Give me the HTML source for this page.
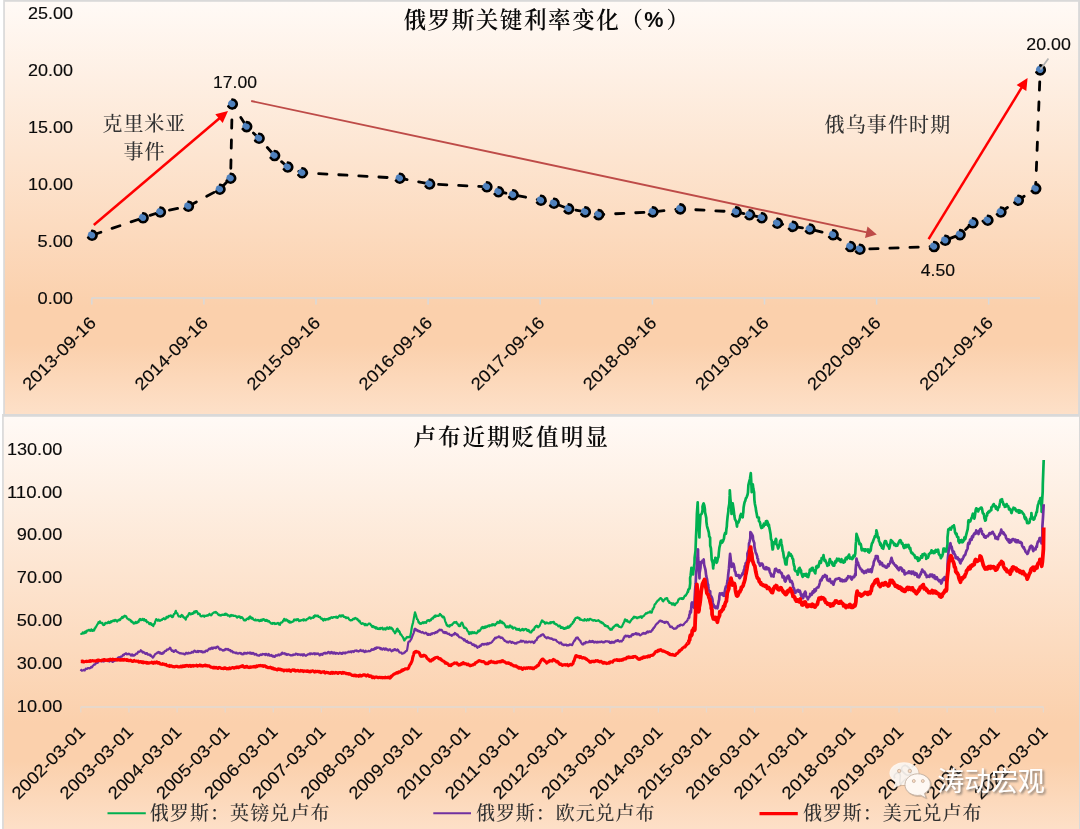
<!DOCTYPE html>
<html lang="zh"><head><meta charset="utf-8"><title>俄罗斯关键利率变化 / 卢布近期贬值明显</title>
<style>html,body{margin:0;padding:0;background:#fff}svg{display:block;will-change:transform}.n{font-family:"Liberation Sans", sans-serif;fill:#0a0a0a;stroke:#0a0a0a;stroke-width:0.15px}.s{font-family:"Liberation Serif", "Noto Serif CJK SC", serif}</style></head><body>
<svg width="1080" height="829" viewBox="0 0 1080 829">
<defs>
<linearGradient id="g" x1="0" y1="0" x2="0" y2="1"><stop offset="0" stop-color="#FFFAF6"/><stop offset="0.74" stop-color="#FBD0AC"/><stop offset="0.83" stop-color="#FBD0AC"/><stop offset="1" stop-color="#FDE0C8"/></linearGradient>
<filter id="sh" x="-10%" y="-20%" width="130%" height="150%"><feDropShadow dx="1.6" dy="1.6" stdDeviation="0.9" flood-color="#555" flood-opacity="0.75"/></filter>
<filter id="sh2" x="-10%" y="-20%" width="130%" height="150%"><feDropShadow dx="0.8" dy="0.8" stdDeviation="0.7" flood-color="#7a6a5c" flood-opacity="0.45"/></filter>
</defs>
<rect width="1080" height="829" fill="#fff"/>
<rect x="3.2" y="0" width="1076.8" height="416.6" fill="#D9D9D9"/>
<rect x="4.9" y="1.8" width="1073.2" height="412.2" fill="url(#g)"/>
<rect x="2.1" y="414" width="1077.9" height="420" fill="#D9D9D9"/>
<rect x="3.8" y="416.8" width="1075.2" height="414" fill="url(#g)"/>
<path d="M91.5 298.0H1040" stroke="#D9D9D9" stroke-width="1.6" fill="none"/>
<path d="M91.8 298.0v6.5M203.9 298.0v6.5M316.0 298.0v6.5M428.1 298.0v6.5M540.2 298.0v6.5M652.4 298.0v6.5M764.5 298.0v6.5M876.6 298.0v6.5M988.7 298.0v6.5" stroke="#D9D9D9" stroke-width="1.5" fill="none"/>
<text class="n" x="73" y="304.0" font-size="17.2" text-anchor="end" textLength="35.5" lengthAdjust="spacingAndGlyphs">0.00</text>
<text class="n" x="73" y="247.0" font-size="17.2" text-anchor="end" textLength="35.5" lengthAdjust="spacingAndGlyphs">5.00</text>
<text class="n" x="73" y="190.0" font-size="17.2" text-anchor="end" textLength="45.0" lengthAdjust="spacingAndGlyphs">10.00</text>
<text class="n" x="73" y="133.0" font-size="17.2" text-anchor="end" textLength="45.0" lengthAdjust="spacingAndGlyphs">15.00</text>
<text class="n" x="73" y="76.0" font-size="17.2" text-anchor="end" textLength="45.0" lengthAdjust="spacingAndGlyphs">20.00</text>
<text class="n" x="73" y="19.0" font-size="17.2" text-anchor="end" textLength="45.0" lengthAdjust="spacingAndGlyphs">25.00</text>
<text class="n" transform="translate(97.0 323.8) rotate(-45)" font-size="17.2" text-anchor="end" textLength="95.5" lengthAdjust="spacingAndGlyphs">2013-09-16</text>
<text class="n" transform="translate(209.2 323.8) rotate(-45)" font-size="17.2" text-anchor="end" textLength="95.5" lengthAdjust="spacingAndGlyphs">2014-09-16</text>
<text class="n" transform="translate(321.3 323.8) rotate(-45)" font-size="17.2" text-anchor="end" textLength="95.5" lengthAdjust="spacingAndGlyphs">2015-09-16</text>
<text class="n" transform="translate(433.4 323.8) rotate(-45)" font-size="17.2" text-anchor="end" textLength="95.5" lengthAdjust="spacingAndGlyphs">2016-09-16</text>
<text class="n" transform="translate(545.5 323.8) rotate(-45)" font-size="17.2" text-anchor="end" textLength="95.5" lengthAdjust="spacingAndGlyphs">2017-09-16</text>
<text class="n" transform="translate(657.6 323.8) rotate(-45)" font-size="17.2" text-anchor="end" textLength="95.5" lengthAdjust="spacingAndGlyphs">2018-09-16</text>
<text class="n" transform="translate(769.8 323.8) rotate(-45)" font-size="17.2" text-anchor="end" textLength="95.5" lengthAdjust="spacingAndGlyphs">2019-09-16</text>
<text class="n" transform="translate(881.9 323.8) rotate(-45)" font-size="17.2" text-anchor="end" textLength="95.5" lengthAdjust="spacingAndGlyphs">2020-09-16</text>
<text class="n" transform="translate(994.0 323.8) rotate(-45)" font-size="17.2" text-anchor="end" textLength="95.5" lengthAdjust="spacingAndGlyphs">2021-09-16</text>
<text class="s" font-size="22.6" font-weight="600" fill="#0a0a0a" x="403.5" y="27.6" letter-spacing="1.5">俄罗斯关键利率变化（<tspan x="644.3" y="26.7" letter-spacing="0" font-family='&quot;Liberation Sans&quot;, sans-serif' font-size="21.6" font-weight="700">%</tspan><tspan x="666.6" y="27.6">）</tspan></text>
<path d="M251.2 101.0L868 232.6" stroke="#BE4B48" stroke-width="1.9" fill="none"/>
<path d="M876.8 234.5L865.0 238.0L867.5 226.6Z" fill="#BE4B48"/>
<polyline points="92.0,235.3 143.0,217.8 160.3,212.0 188.3,206.3 219.9,189.2 230.6,178.2 232.2,104.0 246.6,126.6 259.0,138.3 274.5,155.5 287.7,167.0 302.2,172.7 399.8,178.2 429.5,184.0 486.8,186.8 498.5,191.7 513.0,194.7 540.9,200.3 554.0,203.2 568.5,208.9 585.2,211.9 598.6,214.6 652.8,211.9 680.3,208.9 736.0,211.9 749.5,214.7 761.8,217.7 777.3,223.2 792.8,226.4 809.8,229.0 833.0,234.8 850.3,246.5 859.8,249.3 934.0,246.5 945.2,240.3 960.0,234.6 972.8,222.8 987.8,220.2 1000.8,212.0 1018.2,200.3 1035.6,188.6 1040.2,69.9" fill="none" stroke="#000" stroke-width="2.8" stroke-dasharray="8.3 11.8" stroke-dashoffset="-1.1" stroke-linecap="round" stroke-linejoin="round"/>
<g fill="#4F81BD"><circle cx="92.0" cy="235.3" r="4.3"/><circle cx="143.0" cy="217.8" r="4.3"/><circle cx="160.3" cy="212.0" r="4.3"/><circle cx="188.3" cy="206.3" r="4.3"/><circle cx="219.9" cy="189.2" r="4.3"/><circle cx="230.6" cy="178.2" r="4.3"/><circle cx="232.2" cy="104.0" r="4.3"/><circle cx="246.6" cy="126.6" r="4.3"/><circle cx="259.0" cy="138.3" r="4.3"/><circle cx="274.5" cy="155.5" r="4.3"/><circle cx="287.7" cy="167.0" r="4.3"/><circle cx="302.2" cy="172.7" r="4.3"/><circle cx="399.8" cy="178.2" r="4.3"/><circle cx="429.5" cy="184.0" r="4.3"/><circle cx="486.8" cy="186.8" r="4.3"/><circle cx="498.5" cy="191.7" r="4.3"/><circle cx="513.0" cy="194.7" r="4.3"/><circle cx="540.9" cy="200.3" r="4.3"/><circle cx="554.0" cy="203.2" r="4.3"/><circle cx="568.5" cy="208.9" r="4.3"/><circle cx="585.2" cy="211.9" r="4.3"/><circle cx="598.6" cy="214.6" r="4.3"/><circle cx="652.8" cy="211.9" r="4.3"/><circle cx="680.3" cy="208.9" r="4.3"/><circle cx="736.0" cy="211.9" r="4.3"/><circle cx="749.5" cy="214.7" r="4.3"/><circle cx="761.8" cy="217.7" r="4.3"/><circle cx="777.3" cy="223.2" r="4.3"/><circle cx="792.8" cy="226.4" r="4.3"/><circle cx="809.8" cy="229.0" r="4.3"/><circle cx="833.0" cy="234.8" r="4.3"/><circle cx="850.3" cy="246.5" r="4.3"/><circle cx="859.8" cy="249.3" r="4.3"/><circle cx="934.0" cy="246.5" r="4.3"/><circle cx="945.2" cy="240.3" r="4.3"/><circle cx="960.0" cy="234.6" r="4.3"/><circle cx="972.8" cy="222.8" r="4.3"/><circle cx="987.8" cy="220.2" r="4.3"/><circle cx="1000.8" cy="212.0" r="4.3"/><circle cx="1018.2" cy="200.3" r="4.3"/><circle cx="1035.6" cy="188.6" r="4.3"/><circle cx="1040.2" cy="69.9" r="4.3"/></g>
<path d="M92.16 230.80A4.50 4.50 0 1 1 88.18 237.68M143.16 213.30A4.50 4.50 0 1 1 139.18 220.18M160.46 207.50A4.50 4.50 0 1 1 156.48 214.38M188.46 201.80A4.50 4.50 0 1 1 184.48 208.68M220.06 184.70A4.50 4.50 0 1 1 216.08 191.58M230.76 173.70A4.50 4.50 0 1 1 226.78 180.58M232.36 99.50A4.50 4.50 0 1 1 228.38 106.38M246.76 122.10A4.50 4.50 0 1 1 242.78 128.98M259.16 133.80A4.50 4.50 0 1 1 255.18 140.68M274.66 151.00A4.50 4.50 0 1 1 270.68 157.88M287.86 162.50A4.50 4.50 0 1 1 283.88 169.38M302.36 168.20A4.50 4.50 0 1 1 298.38 175.08M399.96 173.70A4.50 4.50 0 1 1 395.98 180.58M429.66 179.50A4.50 4.50 0 1 1 425.68 186.38M486.96 182.30A4.50 4.50 0 1 1 482.98 189.18M498.66 187.20A4.50 4.50 0 1 1 494.68 194.08M513.16 190.20A4.50 4.50 0 1 1 509.18 197.08M541.06 195.80A4.50 4.50 0 1 1 537.08 202.68M554.16 198.70A4.50 4.50 0 1 1 550.18 205.58M568.66 204.40A4.50 4.50 0 1 1 564.68 211.28M585.36 207.40A4.50 4.50 0 1 1 581.38 214.28M598.76 210.10A4.50 4.50 0 1 1 594.78 216.98M652.96 207.40A4.50 4.50 0 1 1 648.98 214.28M680.46 204.40A4.50 4.50 0 1 1 676.48 211.28M736.16 207.40A4.50 4.50 0 1 1 732.18 214.28M749.66 210.20A4.50 4.50 0 1 1 745.68 217.08M761.96 213.20A4.50 4.50 0 1 1 757.98 220.08M777.46 218.70A4.50 4.50 0 1 1 773.48 225.58M792.96 221.90A4.50 4.50 0 1 1 788.98 228.78M809.96 224.50A4.50 4.50 0 1 1 805.98 231.38M833.16 230.30A4.50 4.50 0 1 1 829.18 237.18M850.46 242.00A4.50 4.50 0 1 1 846.48 248.88M859.96 244.80A4.50 4.50 0 1 1 855.98 251.68M934.16 242.00A4.50 4.50 0 1 1 930.18 248.88M945.36 235.80A4.50 4.50 0 1 1 941.38 242.68M960.16 230.10A4.50 4.50 0 1 1 956.18 236.98M972.96 218.30A4.50 4.50 0 1 1 968.98 225.18M987.96 215.70A4.50 4.50 0 1 1 983.98 222.58M1000.96 207.50A4.50 4.50 0 1 1 996.98 214.38M1018.36 195.80A4.50 4.50 0 1 1 1014.38 202.68M1035.76 184.10A4.50 4.50 0 1 1 1031.78 190.98M1040.36 65.40A4.50 4.50 0 1 1 1036.38 72.28" fill="none" stroke="#000" stroke-width="2.6" stroke-linecap="round"/>
<path d="M93.8 225.0L219.8 118.0" stroke="#FF0000" stroke-width="2.5" fill="none"/>
<path d="M228.0 111.0L222.7 123.0L215.3 114.3Z" fill="#FF0000"/>
<path d="M928.6 239.2L1021.9 87.2" stroke="#FF0000" stroke-width="2.5" fill="none"/>
<path d="M1027.6 78.0L1026.3 91.0L1016.6 85.1Z" fill="#FF0000"/>
<path d="M1048.4 58.4L1040.4 69.6" stroke="#B2B2B2" stroke-width="1.7" fill="none"/>
<text class="n" x="213" y="87.6" font-size="17.2" textLength="44" lengthAdjust="spacingAndGlyphs">17.00</text>
<text class="n" x="1026.3" y="50" font-size="17.2" textLength="44.5" lengthAdjust="spacingAndGlyphs">20.00</text>
<text class="n" x="920.8" y="276.4" font-size="17.2" textLength="34.2" lengthAdjust="spacingAndGlyphs">4.50</text>
<text class="s" font-size="20" font-weight="500" fill="#333" x="102.6" y="130.5" textLength="82.5" lengthAdjust="spacing">克里米亚</text>
<text class="s" font-size="20" font-weight="500" fill="#333" x="123.6" y="158.6" textLength="41" lengthAdjust="spacing">事件</text>
<text class="s" font-size="20" font-weight="500" fill="#333" x="824.6" y="132.4" textLength="125.6" lengthAdjust="spacing">俄乌事件时期</text>
<path d="M80.7 707.0H1043.5" stroke="#E7D8CB" stroke-width="1.8" fill="none"/>
<path d="M80.8 707.0v5.5M128.9 707.0v5.5M177.1 707.0v5.5M225.2 707.0v5.5M273.3 707.0v5.5M321.4 707.0v5.5M369.6 707.0v5.5M417.7 707.0v5.5M465.8 707.0v5.5M514.0 707.0v5.5M562.1 707.0v5.5M610.2 707.0v5.5M658.4 707.0v5.5M706.5 707.0v5.5M754.6 707.0v5.5M802.8 707.0v5.5M850.9 707.0v5.5M899.0 707.0v5.5M947.1 707.0v5.5M995.3 707.0v5.5M1043.4 707.0v5.5" stroke="#E7D8CB" stroke-width="1.3" fill="none"/>
<text class="n" x="62.3" y="712.0" font-size="17.2" text-anchor="end" textLength="45.5" lengthAdjust="spacingAndGlyphs">10.00</text>
<text class="n" x="62.3" y="669.1" font-size="17.2" text-anchor="end" textLength="45.5" lengthAdjust="spacingAndGlyphs">30.00</text>
<text class="n" x="62.3" y="626.2" font-size="17.2" text-anchor="end" textLength="45.5" lengthAdjust="spacingAndGlyphs">50.00</text>
<text class="n" x="62.3" y="583.3" font-size="17.2" text-anchor="end" textLength="45.5" lengthAdjust="spacingAndGlyphs">70.00</text>
<text class="n" x="62.3" y="540.4" font-size="17.2" text-anchor="end" textLength="45.5" lengthAdjust="spacingAndGlyphs">90.00</text>
<text class="n" x="62.3" y="497.5" font-size="17.2" text-anchor="end" textLength="55.4" lengthAdjust="spacingAndGlyphs">110.00</text>
<text class="n" x="62.3" y="454.6" font-size="17.2" text-anchor="end" textLength="55.4" lengthAdjust="spacingAndGlyphs">130.00</text>
<text class="n" transform="translate(86.3 732.8) rotate(-45)" font-size="17.2" text-anchor="end" textLength="95.5" lengthAdjust="spacingAndGlyphs">2002-03-01</text>
<text class="n" transform="translate(134.4 732.8) rotate(-45)" font-size="17.2" text-anchor="end" textLength="95.5" lengthAdjust="spacingAndGlyphs">2003-03-01</text>
<text class="n" transform="translate(182.6 732.8) rotate(-45)" font-size="17.2" text-anchor="end" textLength="95.5" lengthAdjust="spacingAndGlyphs">2004-03-01</text>
<text class="n" transform="translate(230.7 732.8) rotate(-45)" font-size="17.2" text-anchor="end" textLength="95.5" lengthAdjust="spacingAndGlyphs">2005-03-01</text>
<text class="n" transform="translate(278.8 732.8) rotate(-45)" font-size="17.2" text-anchor="end" textLength="95.5" lengthAdjust="spacingAndGlyphs">2006-03-01</text>
<text class="n" transform="translate(326.9 732.8) rotate(-45)" font-size="17.2" text-anchor="end" textLength="95.5" lengthAdjust="spacingAndGlyphs">2007-03-01</text>
<text class="n" transform="translate(375.1 732.8) rotate(-45)" font-size="17.2" text-anchor="end" textLength="95.5" lengthAdjust="spacingAndGlyphs">2008-03-01</text>
<text class="n" transform="translate(423.2 732.8) rotate(-45)" font-size="17.2" text-anchor="end" textLength="95.5" lengthAdjust="spacingAndGlyphs">2009-03-01</text>
<text class="n" transform="translate(471.3 732.8) rotate(-45)" font-size="17.2" text-anchor="end" textLength="95.5" lengthAdjust="spacingAndGlyphs">2010-03-01</text>
<text class="n" transform="translate(519.5 732.8) rotate(-45)" font-size="17.2" text-anchor="end" textLength="95.5" lengthAdjust="spacingAndGlyphs">2011-03-01</text>
<text class="n" transform="translate(567.6 732.8) rotate(-45)" font-size="17.2" text-anchor="end" textLength="95.5" lengthAdjust="spacingAndGlyphs">2012-03-01</text>
<text class="n" transform="translate(615.7 732.8) rotate(-45)" font-size="17.2" text-anchor="end" textLength="95.5" lengthAdjust="spacingAndGlyphs">2013-03-01</text>
<text class="n" transform="translate(663.9 732.8) rotate(-45)" font-size="17.2" text-anchor="end" textLength="95.5" lengthAdjust="spacingAndGlyphs">2014-03-01</text>
<text class="n" transform="translate(712.0 732.8) rotate(-45)" font-size="17.2" text-anchor="end" textLength="95.5" lengthAdjust="spacingAndGlyphs">2015-03-01</text>
<text class="n" transform="translate(760.1 732.8) rotate(-45)" font-size="17.2" text-anchor="end" textLength="95.5" lengthAdjust="spacingAndGlyphs">2016-03-01</text>
<text class="n" transform="translate(808.2 732.8) rotate(-45)" font-size="17.2" text-anchor="end" textLength="95.5" lengthAdjust="spacingAndGlyphs">2017-03-01</text>
<text class="n" transform="translate(856.4 732.8) rotate(-45)" font-size="17.2" text-anchor="end" textLength="95.5" lengthAdjust="spacingAndGlyphs">2018-03-01</text>
<text class="n" transform="translate(904.5 732.8) rotate(-45)" font-size="17.2" text-anchor="end" textLength="95.5" lengthAdjust="spacingAndGlyphs">2019-03-01</text>
<text class="n" transform="translate(952.6 732.8) rotate(-45)" font-size="17.2" text-anchor="end" textLength="95.5" lengthAdjust="spacingAndGlyphs">2020-03-01</text>
<text class="n" transform="translate(1000.8 732.8) rotate(-45)" font-size="17.2" text-anchor="end" textLength="95.5" lengthAdjust="spacingAndGlyphs">2021-03-01</text>
<text class="n" transform="translate(1048.9 732.8) rotate(-45)" font-size="17.2" text-anchor="end" textLength="95.5" lengthAdjust="spacingAndGlyphs">2022-03-01</text>
<text class="s" font-size="22.6" font-weight="600" fill="#0a0a0a" x="413.4" y="444.6" letter-spacing="1.95">卢布近期贬值明显</text>
<polyline points="80.8,633.1 81.3,633.9 81.8,633.5 82.3,633.6 82.8,632.4 83.3,633.3 83.8,633.4 84.2,632.7 84.7,631.9 85.2,632.8 85.7,631.4 86.2,632.5 86.7,631.4 87.2,630.4 87.7,630.7 88.2,630.3 88.8,629.9 89.3,629.8 89.8,630.6 90.3,630.4 90.8,630.8 91.3,629.4 91.8,630.1 92.3,630.8 92.7,630.8 93.2,629.9 93.7,630.7 94.2,630.3 94.7,628.4 95.1,628.6 95.6,627.0 96.1,626.9 96.6,625.7 97.0,625.0 97.5,624.2 98.0,623.6 98.5,622.2 99.0,623.1 99.5,621.9 100.0,621.3 100.5,622.2 100.9,623.0 101.4,622.9 101.9,623.2 102.4,623.0 102.8,624.5 103.3,625.0 103.8,625.1 104.3,624.9 104.8,624.2 105.3,622.9 105.8,623.4 106.2,623.3 106.7,622.9 107.2,623.0 107.7,623.1 108.2,622.0 108.7,621.7 109.2,622.9 109.7,623.1 110.2,622.0 110.7,622.3 111.1,621.1 111.6,622.0 112.1,621.0 112.6,621.0 113.1,620.5 113.5,620.3 114.0,621.2 114.5,620.6 115.0,619.8 115.5,620.5 116.0,620.2 116.5,621.0 117.0,621.6 117.5,620.8 118.0,620.3 118.5,619.9 119.1,620.4 119.6,619.5 120.1,620.0 120.7,618.8 121.2,618.4 121.7,617.8 122.2,616.9 122.7,618.1 123.2,617.0 123.8,616.4 124.3,616.7 124.8,615.7 125.3,616.3 125.8,616.1 126.3,616.6 126.8,617.9 127.3,618.6 127.8,618.8 128.3,619.1 128.8,619.6 129.3,619.3 129.8,619.7 130.3,620.0 130.8,621.4 131.3,620.7 131.9,622.2 132.4,621.7 132.9,622.4 133.4,623.3 133.9,623.7 134.5,623.3 135.0,622.9 135.5,622.0 136.0,623.1 136.5,623.0 137.0,622.9 137.5,621.7 138.0,622.0 138.5,622.1 139.0,620.4 139.5,619.5 140.0,618.9 140.5,620.1 141.1,619.6 141.6,620.1 142.1,619.9 142.6,618.8 143.1,619.9 143.7,620.3 144.2,619.1 144.7,620.3 145.2,620.8 145.7,620.2 146.2,620.2 146.8,622.3 147.3,621.7 147.8,622.1 148.3,622.3 148.8,622.9 149.3,624.2 149.8,623.5 150.3,623.1 150.8,623.0 151.3,624.8 151.8,624.9 152.3,624.4 152.8,625.5 153.3,626.1 153.8,624.0 154.3,624.2 154.8,623.2 155.2,621.5 155.7,620.4 156.2,619.1 156.7,619.8 157.2,619.9 157.7,620.6 158.2,619.8 158.8,619.6 159.3,620.8 159.8,620.3 160.3,620.7 160.8,620.4 161.3,619.8 161.9,620.0 162.4,619.0 162.9,618.9 163.4,619.0 163.9,618.2 164.5,618.9 165.0,619.3 165.5,618.8 166.0,618.6 166.5,616.9 167.0,617.6 167.5,617.6 168.0,617.4 168.5,616.0 169.0,616.3 169.5,616.2 170.0,615.7 170.5,615.4 171.0,616.1 171.5,615.7 172.0,617.1 172.5,617.1 173.0,616.8 173.4,615.4 173.9,614.1 174.4,614.0 174.9,613.3 175.3,612.2 175.8,610.9 176.3,612.8 176.8,613.1 177.3,613.3 177.7,614.4 178.2,615.5 178.7,616.4 179.2,616.4 179.7,616.4 180.2,616.1 180.7,616.9 181.2,615.8 181.7,614.9 182.2,615.8 182.7,615.7 183.2,617.2 183.8,617.6 184.3,617.3 184.8,618.1 185.3,618.8 185.8,619.5 186.3,617.5 186.8,616.5 187.3,616.8 187.7,616.4 188.2,615.2 188.7,614.1 189.2,613.1 189.7,614.2 190.2,613.4 190.7,614.4 191.2,614.2 191.7,613.8 192.2,613.1 192.8,613.8 193.3,613.6 193.8,612.1 194.3,611.5 194.8,612.7 195.3,612.3 195.8,611.1 196.3,611.4 196.8,611.2 197.3,612.2 197.7,613.2 198.2,614.1 198.7,613.7 199.2,613.7 199.7,613.9 200.2,615.2 200.7,616.2 201.2,615.8 201.8,616.4 202.3,616.1 202.8,615.6 203.3,615.7 203.8,616.3 204.3,616.8 204.8,615.7 205.4,616.0 205.9,615.9 206.4,615.8 206.9,615.5 207.4,615.1 207.9,615.7 208.5,615.3 209.0,614.8 209.5,613.8 210.0,614.5 210.5,615.0 211.0,615.3 211.4,615.0 211.9,614.5 212.4,613.4 212.9,613.4 213.4,612.8 213.9,612.4 214.4,612.2 214.8,612.3 215.3,612.7 215.8,612.0 216.3,612.5 216.9,612.9 217.4,613.3 217.9,614.3 218.4,614.8 218.9,615.1 219.5,614.6 220.0,615.4 220.5,615.2 221.0,615.6 221.4,615.0 221.9,614.8 222.4,614.5 222.9,614.9 223.4,614.6 223.9,614.9 224.4,614.9 224.8,614.0 225.3,614.9 225.8,613.6 226.3,614.3 226.8,614.8 227.3,614.5 227.7,615.6 228.2,615.3 228.7,615.4 229.2,615.5 229.7,616.5 230.2,615.6 230.7,616.1 231.2,614.9 231.7,615.5 232.2,615.2 232.7,615.7 233.2,615.4 233.7,615.9 234.2,615.8 234.7,615.9 235.2,616.1 235.7,615.8 236.2,616.5 236.7,616.8 237.2,617.6 237.6,616.6 238.1,616.9 238.6,616.4 239.1,616.9 239.5,616.3 240.0,616.9 240.5,618.1 241.1,617.6 241.6,617.2 242.1,617.3 242.6,618.4 243.1,618.4 243.7,619.9 244.2,620.3 244.7,620.3 245.2,619.9 245.6,620.4 246.1,620.1 246.6,618.9 247.1,618.9 247.6,618.4 248.1,618.8 248.6,619.1 249.0,617.6 249.5,616.7 250.0,616.5 250.5,618.0 251.0,617.2 251.5,618.6 252.0,618.2 252.5,617.9 253.0,619.0 253.5,619.6 254.0,619.9 254.5,620.1 255.0,620.4 255.5,619.4 256.0,620.1 256.5,620.4 257.0,620.4 257.5,620.2 258.0,619.8 258.5,620.2 259.0,620.9 259.5,621.2 260.0,620.5 260.5,619.9 261.1,620.9 261.6,619.7 262.1,620.6 262.6,620.0 263.1,619.1 263.7,619.4 264.2,619.4 264.7,620.5 265.2,620.3 265.6,620.9 266.1,619.8 266.6,620.9 267.1,620.2 267.6,621.4 268.1,621.0 268.6,620.9 269.0,621.1 269.5,622.2 270.0,622.3 270.5,622.6 271.0,623.5 271.5,623.7 272.0,623.3 272.5,623.9 273.0,622.9 273.5,623.4 274.0,623.4 274.5,623.0 275.0,624.1 275.5,623.7 276.0,623.6 276.5,623.9 277.0,623.3 277.5,623.4 278.0,622.9 278.5,623.5 279.0,624.5 279.5,624.6 280.0,624.8 280.5,622.8 281.1,622.6 281.6,622.6 282.1,622.1 282.6,622.0 283.1,620.5 283.7,620.7 284.2,618.9 284.7,619.7 285.2,620.6 285.6,620.2 286.1,619.5 286.6,620.4 287.1,620.0 287.6,621.1 288.1,620.6 288.6,622.1 289.0,621.5 289.5,621.1 290.0,622.8 290.5,621.9 291.0,621.9 291.5,622.3 292.0,621.8 292.5,621.9 293.0,621.3 293.5,621.4 294.0,619.7 294.5,620.0 295.0,619.3 295.5,620.1 296.0,619.8 296.5,620.3 297.1,619.2 297.6,619.9 298.1,619.1 298.6,620.3 299.1,621.0 299.6,620.5 300.2,620.3 300.7,620.8 301.2,620.3 301.7,620.0 302.2,620.1 302.7,620.1 303.2,619.3 303.7,620.5 304.2,620.1 304.7,619.5 305.3,620.2 305.8,620.3 306.3,620.2 306.8,619.4 307.3,618.8 307.8,618.7 308.3,618.6 308.8,618.2 309.3,617.3 309.8,617.3 310.3,617.8 310.8,618.6 311.3,617.8 311.8,617.8 312.3,617.8 312.8,617.6 313.3,617.8 313.8,616.1 314.4,617.1 314.9,615.5 315.4,615.7 315.9,615.5 316.4,616.2 317.0,615.9 317.5,615.5 318.0,615.5 318.5,616.9 318.9,616.8 319.4,617.2 319.9,616.8 320.4,617.4 320.9,618.5 321.4,618.8 321.9,618.6 322.3,618.6 322.8,620.0 323.3,620.6 323.8,619.7 324.3,618.9 324.8,619.0 325.4,620.0 325.9,619.3 326.4,619.1 326.9,619.3 327.4,618.8 327.9,619.5 328.5,619.5 329.0,618.2 329.5,618.0 330.0,618.6 330.5,617.7 331.0,617.7 331.5,617.2 332.1,617.8 332.6,617.9 333.1,617.1 333.6,617.1 334.1,617.0 334.6,617.2 335.2,617.1 335.7,616.8 336.2,617.6 336.7,616.7 337.2,617.4 337.7,617.8 338.2,616.9 338.7,616.5 339.2,615.8 339.7,615.4 340.2,616.3 340.7,616.5 341.2,615.5 341.7,616.4 342.2,615.3 342.7,615.7 343.2,615.5 343.7,616.8 344.2,616.7 344.7,617.2 345.2,617.2 345.7,617.2 346.2,618.2 346.7,617.5 347.2,617.5 347.6,617.9 348.1,617.7 348.6,618.5 349.1,619.4 349.5,619.9 350.0,619.9 350.5,620.4 351.0,620.3 351.5,620.2 352.0,620.1 352.5,619.6 353.0,619.0 353.5,618.7 354.0,619.2 354.5,618.5 355.0,618.1 355.5,617.9 356.0,618.7 356.5,618.6 357.0,619.3 357.5,619.0 358.0,620.2 358.5,620.7 359.0,621.4 359.5,620.6 360.0,621.8 360.5,622.9 361.1,623.5 361.6,623.9 362.1,623.4 362.6,623.1 363.1,623.7 363.7,623.7 364.2,624.3 364.7,625.2 365.2,624.0 365.7,625.2 366.2,624.5 366.8,625.2 367.3,625.2 367.8,624.4 368.3,624.1 368.8,623.6 369.3,623.5 369.8,623.6 370.3,624.0 370.8,625.0 371.3,625.1 371.8,626.5 372.3,627.0 372.8,626.2 373.3,626.1 373.8,626.4 374.3,627.5 374.8,627.1 375.3,627.1 375.8,628.5 376.3,627.3 376.8,627.7 377.3,628.7 377.8,629.0 378.3,628.9 378.8,629.1 379.3,628.2 379.8,628.5 380.3,629.0 380.8,627.9 381.3,628.2 381.8,627.9 382.3,627.7 382.7,629.2 383.2,629.4 383.7,628.9 384.2,629.3 384.7,628.3 385.2,628.6 385.7,629.5 386.2,628.3 386.7,627.8 387.2,627.5 387.7,628.6 388.2,628.9 388.7,627.8 389.2,628.6 389.7,627.2 390.2,627.9 390.7,628.5 391.2,627.7 391.7,628.1 392.2,629.2 392.6,629.0 393.1,630.2 393.6,631.4 394.1,631.6 394.5,631.8 395.0,633.3 395.5,632.5 396.0,631.7 396.5,630.2 397.0,629.0 397.5,628.7 398.0,630.0 398.4,631.6 398.9,630.7 399.4,631.5 399.9,632.4 400.3,634.3 400.8,634.1 401.3,634.9 401.8,635.7 402.3,636.4 402.7,636.9 403.2,637.8 403.7,639.1 404.2,640.5 404.7,640.3 405.1,638.8 405.6,638.5 406.1,638.4 406.6,637.4 407.0,637.0 407.5,637.3 408.0,637.1 408.5,637.3 409.0,636.8 409.5,637.0 410.0,637.3 410.5,635.0 411.0,632.6 411.5,629.2 412.0,626.4 412.5,624.4 413.0,622.8 413.5,620.1 414.0,617.4 414.5,615.1 415.0,612.3 415.5,613.8 416.0,615.3 416.5,617.2 417.0,619.1 417.5,619.3 418.0,620.3 418.5,622.3 419.0,622.0 419.5,623.4 420.0,623.7 420.5,623.1 421.0,623.9 421.5,623.5 422.0,622.8 422.5,622.6 423.0,622.2 423.5,623.2 424.0,622.9 424.5,622.2 425.0,622.7 425.5,622.3 426.0,622.9 426.5,621.9 427.0,620.8 427.5,620.3 428.0,620.6 428.5,620.1 429.0,620.3 429.5,621.0 430.0,620.6 430.5,619.7 431.0,620.2 431.4,618.7 431.9,618.5 432.4,618.0 432.9,618.7 433.4,617.0 433.9,616.9 434.4,616.1 434.8,617.0 435.3,615.5 435.8,616.5 436.3,615.6 436.9,616.0 437.4,615.7 437.9,615.9 438.4,616.0 438.9,615.8 439.5,614.7 440.0,613.9 440.5,614.8 441.1,614.8 441.6,616.1 442.1,616.2 442.6,617.3 443.1,616.7 443.7,616.7 444.2,617.6 444.7,619.4 445.1,620.8 445.6,622.2 446.1,623.1 446.6,624.9 447.0,625.1 447.5,626.0 448.0,625.6 448.5,625.6 449.0,626.5 449.5,626.7 450.0,625.1 450.5,625.5 451.0,624.9 451.5,625.0 452.0,625.1 452.5,624.1 453.0,623.6 453.4,623.1 453.9,622.6 454.4,622.1 454.9,622.5 455.3,622.6 455.8,622.2 456.3,621.9 456.8,623.3 457.3,623.4 457.7,624.4 458.2,624.3 458.7,625.8 459.2,626.2 459.7,626.1 460.2,625.9 460.7,623.8 461.2,623.6 461.7,622.6 462.2,622.8 462.7,623.9 463.2,625.5 463.8,627.0 464.3,628.1 464.8,627.6 465.3,627.5 465.8,628.1 466.3,628.5 466.8,629.4 467.3,630.6 467.7,631.2 468.2,631.4 468.7,632.8 469.2,634.2 469.7,633.4 470.2,632.2 470.7,632.9 471.2,633.6 471.7,633.3 472.2,632.0 472.7,632.6 473.2,633.2 473.7,632.6 474.2,632.2 474.7,632.6 475.2,633.2 475.7,632.8 476.2,633.2 476.7,633.3 477.2,632.8 477.7,631.8 478.2,630.6 478.7,631.5 479.2,630.7 479.7,631.0 480.2,630.2 480.7,629.3 481.2,628.5 481.7,627.3 482.2,628.2 482.7,627.0 483.2,627.6 483.7,628.2 484.2,626.8 484.7,627.9 485.3,626.5 485.8,627.5 486.3,626.3 486.8,626.7 487.3,626.8 487.8,626.3 488.3,625.5 488.8,625.7 489.3,626.3 489.8,625.2 490.4,625.5 490.9,625.7 491.4,625.2 491.9,624.5 492.4,625.3 492.9,624.2 493.5,624.3 494.0,625.0 494.5,624.6 495.0,625.3 495.5,624.2 496.0,624.1 496.5,623.8 497.0,622.5 497.5,621.9 498.0,622.3 498.5,622.7 499.0,623.0 499.5,621.8 500.0,620.6 500.5,621.4 500.9,622.7 501.4,621.8 501.9,621.6 502.4,623.3 502.8,622.5 503.3,623.1 503.8,623.1 504.3,623.8 504.8,625.1 505.2,625.3 505.7,626.9 506.2,627.2 506.7,627.3 507.2,626.3 507.6,627.1 508.1,626.4 508.6,627.4 509.1,627.4 509.5,626.1 510.0,625.5 510.5,625.8 511.0,626.7 511.5,627.5 512.1,626.7 512.6,627.7 513.1,628.6 513.6,627.7 514.1,627.5 514.6,627.6 515.2,627.8 515.7,628.2 516.2,629.5 516.7,629.6 517.2,629.2 517.7,628.8 518.2,629.9 518.7,629.8 519.2,628.8 519.7,630.1 520.3,630.6 520.8,630.5 521.3,630.0 521.8,629.7 522.3,628.9 522.8,629.0 523.3,630.4 523.8,629.4 524.3,630.0 524.8,629.1 525.2,629.1 525.7,628.9 526.2,629.1 526.7,629.6 527.2,630.7 527.7,630.8 528.2,630.0 528.7,631.4 529.2,630.5 529.7,631.9 530.2,632.3 530.7,632.4 531.2,632.4 531.7,631.5 532.2,630.3 532.7,630.5 533.2,629.4 533.8,629.8 534.3,628.7 534.8,627.2 535.3,627.4 535.8,626.0 536.3,626.1 536.8,625.7 537.3,625.9 537.7,627.0 538.2,627.4 538.7,626.6 539.2,626.5 539.7,625.6 540.1,624.6 540.6,623.4 541.1,622.3 541.6,621.4 542.0,620.4 542.5,620.6 543.0,621.8 543.5,622.0 544.1,621.8 544.6,622.8 545.1,623.7 545.7,623.0 546.2,622.5 546.7,623.1 547.2,622.7 547.7,622.9 548.2,623.3 548.7,623.5 549.2,623.4 549.7,623.1 550.3,622.2 550.8,623.3 551.3,622.4 551.8,622.3 552.3,622.0 552.8,622.3 553.3,622.0 553.8,621.8 554.3,623.6 554.8,623.4 555.3,623.9 555.8,624.4 556.3,624.2 556.8,624.5 557.3,625.2 557.8,625.3 558.3,626.4 558.8,625.8 559.3,625.8 559.8,625.6 560.3,626.7 560.8,628.0 561.3,627.9 561.8,627.0 562.3,628.0 562.8,627.7 563.3,627.6 563.8,628.8 564.3,628.9 564.8,628.1 565.3,628.6 565.8,627.6 566.3,628.4 566.8,628.1 567.3,627.2 567.8,626.5 568.3,627.8 568.8,627.4 569.3,627.5 569.9,625.6 570.4,626.2 570.9,624.6 571.5,624.5 572.0,624.0 572.5,623.3 573.0,621.8 573.4,622.3 573.9,621.6 574.4,619.6 574.9,619.9 575.3,618.4 575.8,618.0 576.3,617.8 576.8,617.8 577.4,617.3 577.9,617.3 578.4,618.1 579.0,618.5 579.5,618.0 580.0,619.8 580.5,619.2 581.0,619.8 581.5,619.7 582.1,620.0 582.6,620.2 583.1,620.5 583.6,620.5 584.1,620.6 584.6,619.1 585.2,620.2 585.7,619.9 586.2,619.8 586.7,620.5 587.2,620.0 587.7,619.2 588.2,619.8 588.7,620.4 589.2,619.9 589.7,619.1 590.3,618.8 590.8,619.3 591.3,619.3 591.8,619.7 592.3,620.3 592.8,620.3 593.3,620.6 593.8,620.2 594.3,620.1 594.8,620.2 595.4,620.9 595.9,620.6 596.4,620.9 596.9,620.8 597.4,620.6 597.9,620.7 598.5,620.2 599.0,620.7 599.5,621.3 600.0,621.5 600.5,622.3 601.0,621.8 601.5,622.4 602.0,623.1 602.5,622.7 603.0,623.1 603.5,624.0 604.0,624.0 604.5,625.4 605.0,625.8 605.5,625.1 606.0,625.8 606.5,626.5 606.9,626.4 607.4,626.0 607.9,626.2 608.4,627.6 608.9,628.3 609.3,628.2 609.8,628.8 610.3,629.8 610.8,629.0 611.3,629.7 611.8,629.7 612.3,628.7 612.8,627.3 613.3,627.8 613.8,626.9 614.2,626.4 614.7,625.8 615.2,625.8 615.7,624.8 616.2,625.2 616.7,624.7 617.2,625.8 617.7,624.7 618.2,625.4 618.7,626.0 619.2,626.8 619.7,626.7 620.2,627.0 620.7,627.2 621.2,627.3 621.7,626.8 622.2,626.2 622.6,625.0 623.1,624.2 623.6,622.8 624.1,622.4 624.5,620.9 625.0,619.4 625.5,619.5 626.0,620.6 626.6,621.0 627.1,620.2 627.6,621.6 628.2,621.5 628.7,621.6 629.2,622.3 629.7,622.5 630.2,621.6 630.7,620.8 631.1,620.4 631.6,619.7 632.1,618.9 632.6,618.8 633.1,617.6 633.5,617.5 634.0,616.7 634.5,617.6 635.0,616.9 635.5,617.2 636.0,617.2 636.5,618.0 637.1,617.6 637.6,618.1 638.1,617.5 638.6,617.2 639.1,617.5 639.6,617.2 640.2,616.6 640.7,616.4 641.2,616.3 641.7,617.9 642.2,616.9 642.7,616.7 643.2,616.1 643.6,615.9 644.1,615.7 644.6,614.7 645.1,614.1 645.6,614.0 646.0,613.2 646.5,613.5 647.0,613.2 647.5,612.6 648.0,612.9 648.5,612.3 649.1,612.4 649.6,612.4 650.1,611.3 650.7,612.5 651.2,612.6 651.7,612.6 652.2,611.0 652.6,609.0 653.1,609.2 653.6,607.6 654.1,607.2 654.5,604.9 655.0,604.1 655.5,603.8 656.0,603.0 656.5,602.0 657.0,602.0 657.5,600.6 658.0,600.6 658.5,600.4 659.0,599.5 659.5,599.0 660.0,598.7 660.5,598.0 660.9,598.0 661.4,598.8 661.9,599.1 662.4,600.8 662.8,600.7 663.3,601.4 663.8,600.3 664.3,599.8 664.8,599.5 665.2,598.7 665.7,598.6 666.2,598.7 666.7,598.0 667.2,598.2 667.7,600.2 668.2,601.3 668.8,601.2 669.3,602.8 669.8,602.3 670.3,602.8 670.8,603.2 671.3,603.1 671.8,604.5 672.4,603.4 672.9,604.5 673.4,603.3 674.0,604.3 674.5,605.2 675.0,605.1 675.5,603.7 676.0,603.6 676.5,603.3 677.0,602.8 677.5,602.3 678.0,600.9 678.5,599.4 679.0,599.4 679.5,598.6 680.0,598.4 680.5,598.3 680.9,598.4 681.4,598.9 681.9,598.2 682.4,598.3 682.8,599.1 683.3,598.8 683.8,597.8 684.3,596.6 684.8,595.7 685.2,596.0 685.7,595.8 686.2,594.7 686.7,594.0 687.2,592.8 687.8,591.6" fill="none" stroke="#00B050" stroke-width="2.2" stroke-linejoin="round"/>
<polyline points="687.8,591.6 687.9,591.9 688.5,589.4 689.6,588.4 690.2,583.4 690.1,578.0 690.6,575.7 691.3,569.5 691.4,567.8 692.0,570.8 692.4,571.9 693.0,574.5 693.7,568.5 694.5,563.3 694.6,558.0 695.5,551.0 696.0,536.9 696.5,526.6 696.9,513.8 697.7,502.3 698.0,512.4 698.6,522.6 699.4,537.5 699.6,529.0 700.1,521.7 700.5,515.0 701.5,514.1 701.9,513.4 702.6,509.7 702.5,506.6 703.3,504.0 703.6,503.5 704.3,505.4 704.9,509.1 705.0,512.2 705.4,513.8 706.3,518.1 706.4,521.7 707.0,526.0 707.4,527.7 707.8,528.8 708.8,532.3 709.0,533.9 709.2,536.3 710.1,537.8 710.2,545.7 710.9,548.2 711.3,553.0 711.7,559.9 712.7,562.8 713.2,568.5 713.2,566.5 713.6,565.4 714.3,560.5 715.3,559.5 715.3,557.8 715.7,558.0 716.1,562.1 716.6,562.7 717.2,561.6 717.9,558.1 718.5,556.9 718.8,552.8 719.4,547.6 720.3,544.2 720.3,542.8 720.8,541.1 721.4,540.7 722.2,542.5 722.9,541.4 722.9,541.6 723.3,540.4 724.0,538.4 724.3,535.5 725.2,532.8 726.0,533.5 726.4,528.9 726.8,526.6 727.0,522.8 727.6,516.6 728.4,511.0 728.4,509.0 729.3,503.8 729.7,495.4 729.8,490.3 730.4,498.8 731.2,506.3 731.5,514.0 731.6,511.1 732.2,506.3 732.7,503.4 733.4,507.9 733.9,511.8 734.3,515.6 735.0,519.4 735.7,520.5 736.3,522.0 737.0,526.6 737.3,523.4 737.4,523.1 738.4,522.6 739.0,520.8 739.3,520.3 740.1,517.4 740.2,515.9 741.0,514.0 741.2,516.0 742.0,514.8 742.7,517.3 743.0,513.9 743.3,512.5 743.6,507.5 744.4,503.1 744.8,501.7 745.2,501.0 745.9,498.2 746.4,497.7 746.9,496.5 747.6,494.5 748.0,492.3 748.0,491.9 748.4,485.1 749.3,481.4 750.0,478.8 750.8,473.2 751.3,482.5 751.7,492.1 751.7,490.1 752.3,486.3 752.8,484.4 753.3,488.6 754.1,492.4 754.4,499.8 754.9,504.0 755.7,507.7 756.1,510.9 756.6,513.3 757.0,515.5 757.3,517.3 758.3,517.6 758.9,517.7 758.9,521.1 759.8,522.0 760.2,523.4 760.4,524.8 761.3,528.0 761.6,527.3 762.4,527.6 762.6,526.6 763.2,525.1 763.8,526.2 763.9,523.6 764.4,523.9 764.9,524.4 765.8,524.6 765.9,521.4 766.3,522.0 767.0,521.0 767.3,521.4 768.1,523.7 768.3,526.0 768.9,524.8 769.3,527.7 769.6,528.8 770.6,534.3 771.0,539.2 771.7,540.5 772.0,545.2 772.6,549.5 773.0,548.8 773.3,545.5 774.2,542.2 774.3,543.3 775.3,541.0 775.9,538.8 776.3,539.6 776.3,544.2 777.3,545.0 777.7,547.0 778.2,548.5 778.4,547.8 778.6,547.3 779.3,544.8 779.5,544.5 780.1,541.3 781.0,539.9 781.4,543.5 782.1,546.4 782.7,551.1 783.0,551.2 783.7,555.7 783.9,557.3 784.0,557.6 784.5,558.3 785.1,562.4 785.6,564.4 786.5,564.5 786.8,560.8 787.2,557.9 787.9,556.4 788.4,555.2 788.9,552.6 789.1,553.0 789.9,554.4 790.4,555.5 790.8,554.3 791.1,555.2 791.9,556.1 792.5,558.6 793.1,559.0 793.5,562.7 793.9,565.0 794.6,567.0 794.6,569.6 795.5,571.1 796.1,571.3 796.5,571.3 797.3,571.0 797.6,574.7 798.3,572.7 798.7,568.9 799.3,568.4 799.6,567.8 800.3,569.5 801.1,570.5 801.1,572.4 801.6,573.6 802.4,576.3 802.8,576.8 803.3,575.4 804.0,575.2 804.1,574.2 804.8,575.1 804.8,575.4 805.3,575.7 805.8,574.9 806.1,573.9 807.1,576.5 807.8,575.7 808.3,577.1 808.3,574.4 808.7,575.4 809.5,571.8 809.9,569.6 810.2,570.8 811.2,570.4 811.6,569.8 811.8,568.0 812.7,567.9 812.8,569.6 813.4,570.7 814.2,570.5 814.4,571.6 815.3,573.4 815.3,572.4 816.0,568.4 816.2,566.7 816.6,568.3 817.3,566.0 818.3,567.0 818.6,566.1 819.4,562.6 819.8,561.1 820.2,562.4 820.9,562.8 821.4,560.5 821.6,558.2 822.0,559.2 822.7,557.9 823.4,556.4 823.5,555.2 823.9,558.1 824.5,560.8 825.2,559.9 825.8,561.5 825.9,561.7 826.6,563.3 827.0,564.4 827.4,565.8 828.3,563.8 828.8,565.0 829.3,561.6 829.8,559.6 829.9,559.0 830.2,560.3 831.2,562.1 831.8,563.2 832.0,562.0 832.4,564.6 833.1,565.6 833.4,564.1 834.3,565.6 834.4,564.3 835.4,561.2 835.9,562.6 836.6,560.6 837.0,558.7 837.3,559.8 837.6,560.3 838.5,560.5 838.8,558.9 839.2,560.3 839.9,560.3 840.5,561.9 840.8,560.2 841.5,559.1 841.7,562.0 842.1,561.8 842.4,561.3 843.5,562.6 844.0,560.5 844.4,561.6 844.8,561.8 845.0,560.5 845.8,557.8 846.3,559.0 846.8,559.2 847.5,556.9 848.1,557.5 848.2,556.2 848.8,555.4 849.1,554.6 849.5,557.6 850.0,558.6 850.5,557.4 851.0,558.2 851.9,558.9 852.2,559.1 852.5,557.4 853.0,558.3 853.5,555.6 854.3,556.1 854.6,556.4 855.3,553.4 855.7,545.2 856.1,541.4 856.5,533.8 856.9,535.1 857.7,537.7 857.9,538.0 858.5,539.9 859.3,542.6 859.4,544.1 860.0,543.3 860.8,544.2 861.4,547.4 861.4,548.6 861.8,550.3 862.1,549.2 863.2,549.2 863.7,550.3 864.1,549.4 865.0,551.1 865.3,549.4 865.5,549.3 865.8,549.3 866.5,550.3 867.3,550.5 868.0,549.3 868.2,551.9 868.7,549.6 868.9,551.3 869.3,552.5 869.6,551.2 870.5,550.7 870.8,549.9 871.1,547.3 871.6,545.0 871.9,543.5 872.3,542.9 872.8,542.2 873.3,540.5 874.2,538.2 874.9,536.1 875.4,536.7 875.9,535.5 876.2,532.9 876.4,530.3 877.2,533.4 877.9,537.9 878.6,537.3 878.8,539.7 878.9,540.9 879.7,542.4 880.3,544.8 880.8,543.6 881.1,545.9 881.5,545.2 882.0,547.9 882.6,548.0 883.2,548.7 884.0,545.5 884.0,544.7 884.5,542.4 885.0,541.1 885.8,541.0 886.1,541.5 886.6,543.3 887.5,545.2 888.1,546.3 888.6,545.8 889.1,546.8 889.2,548.6 889.9,545.9 890.0,544.7 890.4,543.5 890.9,540.1 891.4,540.5 891.8,542.2 892.2,541.2 893.1,542.6 893.9,543.8 894.3,545.1 894.9,543.9 895.1,544.4 895.7,544.7 896.0,545.9 896.9,545.3 897.4,545.5 897.7,544.4 898.0,544.3 898.5,542.9 899.5,540.7 900.1,540.1 900.3,540.1 900.9,541.0 901.7,543.5 902.4,543.1 902.4,544.1 903.1,544.6 903.3,546.2 904.0,547.9 904.3,545.3 904.6,547.9 905.5,546.4 906.1,545.0 906.3,546.1 906.5,547.2 907.4,545.1 907.7,545.7 908.5,545.0 908.5,544.9 909.0,546.7 909.5,548.6 910.2,548.0 910.8,551.3 911.6,553.1 911.9,553.4 912.0,552.5 912.4,553.2 913.1,554.0 913.7,554.7 914.6,555.4 914.6,556.0 915.4,557.9 915.8,557.0 916.2,557.9 917.1,558.9 917.7,557.4 918.1,560.8 918.5,560.3 918.7,560.6 919.0,559.9 919.5,559.9 920.2,558.3 921.0,557.6 921.1,556.1 921.5,556.3 922.2,557.5 922.5,554.4 923.1,555.3 923.6,554.7 924.4,553.6 924.7,554.7 925.4,554.4 926.2,557.0 926.2,558.9 926.9,558.1 927.4,557.1 928.0,557.6 928.8,555.4 928.7,554.3 929.6,553.9 929.7,553.3 930.0,553.2 930.4,552.7 930.9,552.9 931.5,550.4 932.3,551.0 932.5,551.3 933.4,553.1 933.4,551.7 934.4,551.4 934.5,553.0 935.4,550.4 935.8,549.8 936.4,551.6 936.7,551.5 936.9,551.3 937.3,551.3 938.1,549.7 938.7,553.2 938.7,553.8 939.1,554.4 939.7,555.4 940.3,555.1 940.9,558.2 941.6,555.3 941.8,556.6 942.0,556.5 942.9,553.6 943.2,550.7 943.5,548.7 944.4,548.6 944.5,550.2 945.3,551.4 945.5,550.1 946.4,551.4 946.7,550.0 947.5,544.3 947.5,537.5 948.1,532.0 948.3,529.4 949.0,529.3 949.9,529.2 949.9,528.2 950.2,528.9 950.9,529.5 951.8,527.0 952.1,527.1 952.6,526.5 953.1,526.1 953.5,526.7 953.9,525.4 954.7,529.3 955.0,532.2 955.9,534.2 956.6,533.7 957.1,536.9 957.6,537.2 957.6,536.7 958.3,537.3 958.5,541.5 959.4,540.7 959.5,542.9 959.9,540.5 960.2,540.7 961.2,540.3 961.6,539.9 962.2,542.3 962.3,541.7 962.8,542.0 963.3,541.1 964.2,540.3 964.3,537.7 964.8,539.3 965.0,539.0 965.3,539.0 966.0,535.6 966.9,532.2 967.7,529.1 968.2,524.1 968.2,522.0 968.5,520.4 969.1,522.2 969.5,520.5 970.2,521.4 971.0,519.3 971.6,517.9 972.0,516.9 972.8,513.9 972.9,513.7 973.7,516.8 974.3,518.6 974.7,517.4 975.4,512.2 975.7,509.9 976.2,508.3 976.8,509.8 977.6,509.1 978.1,510.5 978.1,511.5 978.5,510.3 979.3,508.9 979.6,509.0 980.3,508.4 980.9,507.6 981.5,507.6 982.1,509.1 982.7,512.8 983.1,513.7 983.5,513.7 983.9,513.9 984.4,518.3 985.1,519.9 985.1,520.7 985.8,520.2 986.1,516.7 987.1,515.4 987.3,513.0 987.7,513.3 988.2,511.9 989.0,512.0 989.3,512.1 989.7,510.8 990.7,510.4 991.3,510.2 991.3,507.3 991.7,507.4 992.6,506.0 993.3,504.7 993.7,505.4 993.8,504.1 994.1,505.9 994.7,506.3 995.7,506.1 995.9,508.7 996.3,508.3 997.3,507.7 997.7,510.1 997.9,508.2 998.2,507.3 999.1,507.1 999.3,506.2 1000.1,502.3 1000.4,500.6 1000.6,500.0 1000.9,500.2 1002.0,499.1 1002.4,501.9 1002.7,501.5 1003.5,504.6 1004.1,505.1 1004.6,504.9 1004.6,505.8 1004.8,506.9 1005.5,504.8 1005.9,506.6 1006.7,504.1 1006.8,505.3 1007.3,505.8 1008.2,506.1 1008.9,508.4 1009.0,509.4 1009.2,509.2 1009.8,508.7 1010.4,509.6 1010.8,510.7 1011.3,512.7 1011.6,513.0 1012.4,509.6 1012.9,509.1 1013.2,509.1 1013.5,507.7 1013.9,509.2 1014.9,508.3 1015.6,509.5 1015.7,509.4 1015.9,510.5 1016.6,511.3 1017.5,510.9 1018.1,510.3 1018.4,511.5 1018.7,512.6 1019.4,510.5 1019.8,512.6 1020.3,510.7 1020.6,511.1 1021.4,511.3 1022.2,512.6 1022.6,512.8 1022.9,513.6 1023.6,514.0 1024.2,515.2 1024.6,517.7 1025.2,519.0 1025.7,517.6 1026.2,519.1 1026.2,518.5 1026.7,520.7 1027.1,523.1 1027.6,522.4 1028.0,522.9 1028.5,523.2 1029.5,522.4 1030.1,519.1 1030.0,519.3 1030.6,518.9 1031.4,515.6 1031.4,513.0 1031.8,517.2 1032.7,518.5 1033.5,519.2 1033.5,519.7 1034.5,518.7 1034.6,517.0 1034.9,516.7 1035.7,515.4 1036.4,512.3 1036.9,512.1 1037.2,509.4 1037.9,505.0 1038.6,503.5 1039.0,501.3 1039.7,501.0 1040.3,498.1 1041.0,501.3 1041.6,507.2 1041.6,511.8 1042.1,501.2 1042.7,491.6 1042.8,484.5 1043.7,460.0" fill="none" stroke="#00B050" stroke-width="2.7" stroke-linejoin="round"/>
<polyline points="80.8,671.2 81.3,669.9 81.8,670.7 82.3,670.6 82.8,670.4 83.3,670.2 83.8,669.8 84.2,670.1 84.7,670.5 85.2,669.7 85.7,668.7 86.2,669.0 86.7,668.9 87.2,668.9 87.7,668.3 88.2,668.0 88.7,668.1 89.2,668.2 89.7,668.4 90.2,668.1 90.7,667.8 91.2,666.9 91.7,667.4 92.2,666.9 92.7,666.0 93.2,665.5 93.7,665.0 94.2,664.4 94.7,664.7 95.2,664.1 95.7,663.8 96.2,662.6 96.7,662.7 97.2,662.9 97.6,662.7 98.1,662.5 98.6,661.4 99.1,661.1 99.5,660.2 100.0,660.0 100.5,660.4 100.9,660.9 101.4,661.4 101.9,661.4 102.4,661.4 102.8,660.8 103.3,660.6 103.8,661.6 104.3,660.9 104.8,660.9 105.4,660.3 105.9,660.3 106.4,660.1 106.9,659.9 107.4,659.8 107.9,661.1 108.5,660.4 109.0,660.5 109.5,661.5 110.0,660.3 110.5,660.9 110.9,660.3 111.4,660.0 111.9,661.2 112.4,661.8 112.8,662.0 113.3,661.5 113.8,661.3 114.3,660.2 114.8,660.8 115.4,660.4 115.9,660.0 116.4,660.3 116.9,659.7 117.4,658.3 117.9,657.9 118.5,657.4 119.0,657.1 119.5,657.5 120.0,658.1 120.5,657.0 121.0,656.4 121.5,656.6 121.9,656.6 122.4,656.0 122.9,654.9 123.4,654.9 123.9,655.2 124.3,654.2 124.8,653.8 125.3,653.9 125.8,653.4 126.3,653.3 126.8,654.4 127.4,654.0 127.9,654.2 128.4,654.0 128.9,653.6 129.5,654.4 130.0,654.3 130.5,654.7 131.1,655.6 131.6,654.5 132.1,654.4 132.6,655.7 133.1,655.0 133.7,655.6 134.2,655.6 134.7,654.9 135.2,654.8 135.7,654.0 136.2,653.6 136.7,653.5 137.2,653.7 137.8,652.5 138.3,651.7 138.8,652.0 139.3,651.9 139.8,651.6 140.3,651.2 140.8,650.2 141.3,651.1 141.9,651.2 142.4,652.1 142.9,652.6 143.4,652.0 143.9,652.3 144.5,652.5 145.0,653.6 145.5,653.9 146.0,653.5 146.5,653.1 147.0,653.0 147.4,654.4 147.9,654.7 148.4,654.3 148.9,654.9 149.4,654.9 149.9,654.5 150.4,655.9 150.9,655.1 151.3,656.0 151.8,656.7 152.3,656.8 152.8,657.5 153.3,657.2 153.8,656.1 154.4,655.6 154.9,654.4 155.4,654.0 155.9,653.8 156.4,653.4 157.0,653.2 157.5,652.4 158.0,652.6 158.6,652.0 159.1,652.3 159.6,653.4 160.1,652.5 160.6,653.4 161.2,653.8 161.7,653.1 162.2,653.6 162.7,653.8 163.2,652.4 163.7,652.8 164.1,652.7 164.6,651.5 165.1,650.8 165.6,650.9 166.1,650.9 166.6,650.1 167.1,649.4 167.6,649.6 168.0,649.7 168.5,649.3 169.0,648.7 169.5,648.5 170.0,647.6 170.5,648.0 170.9,649.5 171.4,650.1 171.9,650.9 172.4,650.4 172.8,651.1 173.3,650.9 173.8,651.9 174.3,651.4 174.8,650.8 175.3,650.3 175.8,650.2 176.3,651.2 176.8,651.7 177.3,651.8 177.8,652.0 178.3,652.6 178.8,652.7 179.2,652.8 179.7,653.4 180.2,653.1 180.7,653.4 181.2,653.5 181.7,653.4 182.2,653.7 182.7,653.6 183.2,653.7 183.7,653.7 184.2,654.3 184.7,653.8 185.2,654.3 185.7,653.1 186.2,652.8 186.7,652.9 187.2,653.5 187.7,653.7 188.2,653.0 188.7,652.6 189.1,653.3 189.6,653.1 190.1,653.0 190.6,653.1 191.1,652.9 191.6,652.0 192.1,652.2 192.6,651.8 193.0,652.5 193.5,651.9 194.0,651.1 194.5,650.7 195.0,650.8 195.5,651.8 196.0,652.0 196.5,651.7 197.0,652.1 197.4,651.4 197.9,650.9 198.4,652.1 198.9,651.2 199.4,651.1 199.9,651.1 200.4,651.1 200.9,651.8 201.3,651.6 201.8,651.1 202.3,652.2 202.8,652.5 203.3,652.2 203.8,651.6 204.3,651.7 204.8,652.2 205.3,651.4 205.8,650.7 206.3,650.8 206.8,650.6 207.3,651.1 207.7,650.3 208.2,649.9 208.7,649.0 209.2,648.6 209.7,649.2 210.2,648.3 210.7,649.0 211.2,648.0 211.7,647.6 212.2,648.3 212.7,648.9 213.1,647.6 213.6,647.5 214.1,647.9 214.6,647.9 215.1,647.3 215.6,648.1 216.1,648.1 216.5,647.2 217.0,646.8 217.5,646.6 218.0,646.8 218.5,647.5 219.0,648.7 219.5,649.1 220.0,649.7 220.5,648.8 221.0,649.5 221.5,649.6 222.0,649.9 222.5,650.1 223.0,650.6 223.5,650.2 224.0,650.4 224.5,649.6 225.0,650.0 225.5,649.0 226.0,648.8 226.5,649.3 227.0,649.5 227.5,649.6 228.0,648.9 228.5,650.0 229.0,650.2 229.5,649.8 230.0,650.5 230.5,650.2 231.0,651.5 231.5,651.4 232.0,651.0 232.5,651.9 233.0,652.5 233.5,652.0 234.0,652.4 234.5,652.6 235.1,652.7 235.6,653.2 236.1,652.5 236.6,652.5 237.1,653.4 237.6,653.5 238.1,653.7 238.6,653.3 239.1,653.2 239.7,652.8 240.2,652.8 240.7,653.5 241.2,653.1 241.7,654.2 242.2,654.1 242.7,654.4 243.2,653.6 243.7,654.1 244.1,652.9 244.6,652.8 245.1,652.9 245.6,653.5 246.1,653.2 246.6,653.7 247.1,653.5 247.6,652.6 248.0,652.7 248.5,653.0 249.0,653.2 249.5,653.4 250.0,652.4 250.5,653.6 251.0,652.8 251.5,653.7 252.0,653.9 252.4,653.3 252.9,652.9 253.4,653.0 253.9,653.5 254.4,654.7 254.9,654.4 255.4,654.0 255.9,654.5 256.3,654.0 256.8,654.9 257.3,655.4 257.8,655.3 258.3,655.4 258.8,655.7 259.3,655.7 259.8,654.8 260.3,654.9 260.8,654.4 261.3,654.8 261.8,655.0 262.3,654.2 262.7,653.9 263.2,654.3 263.7,654.1 264.2,654.3 264.7,654.2 265.2,655.0 265.7,653.9 266.2,653.9 266.7,654.3 267.2,655.0 267.7,655.4 268.2,654.7 268.7,653.9 269.1,655.4 269.6,655.7 270.1,655.4 270.6,655.2 271.1,655.8 271.6,654.9 272.1,656.1 272.6,656.2 273.0,656.6 273.5,655.8 274.0,656.6 274.5,657.0 275.0,656.8 275.5,655.9 276.0,655.1 276.5,655.5 277.0,655.7 277.4,655.5 277.9,655.1 278.4,654.4 278.9,654.6 279.4,655.4 279.9,654.8 280.4,654.3 280.9,654.7 281.3,653.6 281.8,653.1 282.3,652.6 282.8,653.9 283.3,653.6 283.8,653.4 284.3,653.4 284.8,653.2 285.4,654.4 285.9,654.3 286.4,653.9 286.9,654.9 287.4,654.7 287.9,654.2 288.5,654.3 289.0,654.6 289.5,654.9 290.0,654.9 290.5,655.3 291.0,655.0 291.5,655.2 292.1,655.5 292.6,655.0 293.1,654.5 293.6,655.1 294.1,654.7 294.6,654.6 295.2,654.7 295.7,653.6 296.2,654.0 296.7,653.8 297.2,654.4 297.7,654.8 298.2,654.2 298.7,654.7 299.1,654.7 299.6,654.3 300.1,654.3 300.6,655.2 301.1,655.0 301.6,654.3 302.1,654.4 302.6,654.9 303.0,655.6 303.5,654.6 304.0,654.2 304.5,655.2 305.0,655.0 305.5,655.7 306.0,655.8 306.5,655.2 307.1,655.0 307.6,654.3 308.1,654.4 308.6,654.2 309.1,654.1 309.6,653.5 310.2,654.4 310.7,653.4 311.2,653.7 311.7,653.5 312.2,654.0 312.7,653.7 313.2,653.5 313.7,653.4 314.1,653.1 314.6,654.3 315.1,654.2 315.6,653.5 316.1,654.2 316.6,653.5 317.1,653.5 317.6,653.9 318.0,653.4 318.5,653.8 319.0,654.3 319.5,655.3 320.0,655.4 320.5,654.8 321.0,653.8 321.5,654.1 322.0,654.7 322.5,654.8 323.0,653.5 323.5,653.3 324.0,653.0 324.5,653.4 325.0,652.7 325.5,653.6 326.0,653.0 326.5,653.4 327.0,653.4 327.5,652.6 328.0,652.0 328.5,651.9 329.0,652.4 329.5,653.3 330.0,652.9 330.5,653.4 331.0,652.4 331.5,651.9 332.1,652.7 332.6,653.4 333.1,652.5 333.6,653.6 334.1,653.2 334.6,652.4 335.2,653.6 335.7,653.9 336.2,653.2 336.7,652.8 337.2,653.2 337.7,653.3 338.2,653.9 338.7,653.9 339.2,653.2 339.7,652.7 340.3,652.8 340.8,653.5 341.3,653.9 341.8,653.1 342.3,653.8 342.8,652.6 343.3,652.6 343.8,653.2 344.3,652.6 344.8,653.4 345.3,653.5 345.8,652.4 346.3,652.7 346.8,652.6 347.3,652.5 347.8,652.4 348.3,651.7 348.8,651.8 349.3,652.2 349.8,651.7 350.3,651.7 350.8,651.3 351.3,652.4 351.8,651.5 352.3,651.1 352.8,651.4 353.3,651.4 353.8,652.0 354.3,650.8 354.8,651.0 355.4,650.6 355.9,650.5 356.4,650.4 356.9,651.2 357.4,650.8 357.9,651.3 358.5,651.6 359.0,651.3 359.5,650.8 360.0,650.6 360.5,649.8 361.0,650.9 361.5,650.6 362.1,651.2 362.6,650.8 363.1,650.3 363.6,651.2 364.1,651.8 364.6,652.1 365.2,651.5 365.7,650.7 366.2,651.6 366.7,651.5 367.2,651.5 367.7,651.5 368.2,651.1 368.7,650.8 369.2,651.3 369.7,651.1 370.2,651.1 370.7,650.8 371.2,649.7 371.7,649.2 372.2,649.5 372.7,650.0 373.2,649.8 373.7,648.9 374.2,649.5 374.7,648.9 375.2,647.8 375.7,648.9 376.2,648.6 376.7,647.4 377.2,647.7 377.7,647.8 378.2,647.5 378.7,647.7 379.2,647.6 379.7,648.0 380.3,649.0 380.8,647.9 381.3,649.1 381.8,649.2 382.3,649.6 382.8,649.2 383.3,648.3 383.8,648.3 384.3,649.3 384.8,649.8 385.3,648.7 385.8,648.3 386.3,649.7 386.8,648.9 387.3,649.6 387.7,649.5 388.2,650.3 388.7,650.3 389.2,649.3 389.7,649.3 390.2,649.4 390.7,650.2 391.2,650.9 391.7,651.3 392.2,650.8 392.7,650.7 393.1,649.8 393.6,650.4 394.1,649.5 394.6,649.2 395.1,649.2 395.6,650.1 396.1,650.1 396.5,650.2 397.0,650.6 397.5,649.5 398.0,649.9 398.5,650.6 399.0,651.7 399.5,652.5 400.0,652.5 400.5,652.6 401.0,652.5 401.5,652.6 402.0,653.7 402.5,653.6 403.0,653.5 403.6,653.3 404.1,652.9 404.6,652.2 405.1,652.3 405.6,651.4 406.2,651.0 406.7,651.0 407.2,649.4 407.8,645.8 408.3,642.4 408.8,641.6 409.3,641.5 409.8,641.5 410.2,640.6 410.7,640.0 411.2,639.2 411.7,638.1 412.2,636.5 412.6,635.5 413.1,634.3 413.6,633.1 414.1,631.7 414.5,629.3 415.0,628.7 415.5,629.0 415.9,629.4 416.4,630.4 416.9,629.9 417.4,630.8 417.8,631.1 418.3,630.5 418.8,630.7 419.3,631.6 419.8,631.1 420.3,632.0 420.8,632.0 421.3,632.5 421.8,632.2 422.3,631.9 422.8,632.2 423.3,632.8 423.8,633.1 424.3,633.5 424.8,633.5 425.4,632.6 425.9,633.2 426.4,632.9 426.9,633.9 427.4,634.7 427.9,634.9 428.5,634.0 429.0,634.9 429.5,634.4 430.0,634.5 430.5,634.8 431.0,633.9 431.4,633.3 431.9,634.2 432.4,633.5 432.9,633.0 433.4,633.0 433.9,633.0 434.4,633.5 434.8,632.7 435.3,632.2 435.8,632.8 436.3,631.8 436.9,631.8 437.4,632.3 437.9,630.8 438.4,630.8 438.9,630.6 439.5,629.7 440.0,630.3 440.5,629.8 441.0,629.8 441.5,629.9 442.0,630.4 442.5,631.2 443.0,631.7 443.5,632.6 444.0,632.5 444.5,632.0 445.0,633.2 445.5,632.2 446.0,632.3 446.5,632.4 447.1,633.5 447.6,633.8 448.1,634.0 448.6,633.8 449.1,633.7 449.6,634.8 450.2,635.1 450.7,635.0 451.2,634.9 451.7,635.8 452.2,635.6 452.7,634.8 453.2,634.6 453.8,633.9 454.3,634.5 454.8,633.0 455.3,633.3 455.8,633.7 456.3,634.4 456.8,635.0 457.3,634.3 457.7,634.7 458.2,636.0 458.7,636.3 459.2,637.2 459.7,637.2 460.2,637.5 460.6,637.5 461.1,637.6 461.6,638.0 462.1,638.2 462.6,638.9 463.1,638.8 463.6,639.7 464.0,640.3 464.5,639.3 465.0,639.9 465.5,640.9 466.0,641.4 466.5,641.8 467.1,640.8 467.6,642.2 468.1,642.6 468.6,642.1 469.1,643.0 469.6,642.9 470.2,642.8 470.7,642.6 471.2,643.0 471.7,644.0 472.2,644.7 472.7,644.9 473.1,644.3 473.6,644.3 474.1,644.7 474.6,646.1 475.1,645.9 475.6,645.4 476.1,645.5 476.5,646.8 477.0,647.2 477.5,647.8 478.0,646.6 478.5,646.5 478.9,646.6 479.4,646.9 479.9,645.8 480.4,645.3 480.9,645.9 481.4,644.6 481.9,644.2 482.3,644.2 482.8,643.8 483.3,644.7 483.8,644.3 484.3,643.9 484.8,644.5 485.4,643.8 485.9,643.8 486.4,644.2 486.9,644.6 487.4,643.2 487.9,643.5 488.5,644.1 489.0,643.7 489.5,642.9 490.0,643.3 490.5,643.1 491.1,642.8 491.6,642.2 492.1,642.0 492.6,641.1 493.1,640.4 493.7,640.1 494.2,639.0 494.7,638.4 495.2,637.7 495.7,638.4 496.2,638.0 496.7,637.3 497.2,637.4 497.7,637.0 498.2,637.2 498.7,636.4 499.2,636.5 499.7,636.8 500.2,637.6 500.7,638.0 501.2,637.5 501.8,637.9 502.3,637.7 502.8,638.2 503.3,639.3 503.8,639.5 504.3,640.4 504.8,640.9 505.2,640.6 505.7,641.2 506.2,641.4 506.7,642.1 507.2,641.7 507.6,642.0 508.1,642.6 508.6,642.3 509.1,641.6 509.5,641.3 510.0,641.4 510.5,641.5 511.0,641.9 511.5,642.9 512.0,642.3 512.5,641.9 513.0,642.5 513.5,642.9 514.0,642.9 514.5,642.9 515.0,643.6 515.5,643.1 516.0,643.4 516.5,643.6 516.9,642.6 517.4,642.5 517.9,642.3 518.4,642.3 518.9,642.2 519.3,642.0 519.8,641.5 520.3,641.7 520.8,640.6 521.3,640.8 521.8,641.7 522.4,641.4 522.9,640.9 523.4,641.0 524.0,641.5 524.5,641.5 525.0,642.5 525.5,641.7 526.0,641.4 526.5,642.3 527.0,641.9 527.5,642.4 528.0,642.2 528.5,641.6 529.0,641.6 529.5,641.5 530.0,641.7 530.5,642.3 531.0,641.8 531.6,642.1 532.1,641.5 532.6,642.2 533.2,641.9 533.7,643.0 534.2,642.8 534.7,642.0 535.1,641.0 535.6,640.5 536.1,640.2 536.6,640.2 537.0,638.8 537.5,637.5 538.0,637.6 538.5,636.8 539.0,636.5 539.5,636.5 540.0,636.2 540.5,635.6 541.0,635.1 541.5,635.5 542.0,634.5 542.5,634.4 543.0,634.3 543.5,634.6 544.1,635.5 544.6,636.7 545.1,637.1 545.7,637.4 546.2,637.8 546.7,638.4 547.2,637.3 547.7,637.3 548.2,637.3 548.7,637.8 549.2,638.4 549.7,638.1 550.3,638.4 550.8,638.7 551.3,638.8 551.8,638.5 552.3,639.1 552.8,639.0 553.3,639.8 553.8,639.7 554.3,639.7 554.8,639.7 555.4,639.9 555.9,639.8 556.4,640.9 556.9,641.2 557.4,641.8 557.9,642.0 558.5,642.2 559.0,643.0 559.5,643.3 560.0,642.6 560.5,643.0 561.0,642.5 561.5,643.4 561.9,644.4 562.4,644.6 562.9,644.4 563.4,644.9 563.9,645.2 564.3,645.0 564.8,644.6 565.3,645.0 565.8,644.7 566.3,644.6 566.8,645.5 567.3,645.2 567.9,645.0 568.4,645.5 568.9,645.3 569.4,644.5 569.9,644.4 570.4,644.5 571.0,644.9 571.5,644.8 572.0,645.2 572.5,644.4 573.0,643.1 573.4,642.1 573.9,641.5 574.4,640.3 574.9,640.5 575.3,639.5 575.8,638.3 576.3,637.6 576.8,638.3 577.3,638.1 577.8,637.5 578.3,638.8 578.8,639.1 579.3,639.8 579.9,640.7 580.4,640.8 580.9,642.3 581.5,643.2 582.0,644.0 582.5,644.4 583.0,644.5 583.5,644.4 584.0,643.0 584.4,642.8 584.9,643.0 585.4,643.3 585.9,641.8 586.4,642.2 586.8,642.3 587.3,642.5 587.8,642.5 588.3,642.0 588.8,642.2 589.3,641.1 589.8,640.8 590.3,641.8 590.8,642.1 591.3,642.0 591.8,641.1 592.3,641.8 592.7,641.0 593.2,641.2 593.7,642.2 594.2,642.6 594.7,642.4 595.2,641.6 595.7,642.0 596.2,642.0 596.7,642.6 597.2,641.7 597.7,642.0 598.2,642.4 598.7,642.1 599.2,641.7 599.7,641.9 600.3,642.2 600.8,641.6 601.3,641.8 601.8,641.4 602.3,642.1 602.8,642.5 603.3,642.3 603.8,641.9 604.3,642.3 604.9,642.0 605.4,641.2 605.9,641.5 606.4,641.5 607.0,641.2 607.5,641.5 608.0,641.5 608.5,641.8 609.0,641.3 609.4,642.2 609.9,642.9 610.4,642.2 610.9,643.0 611.4,641.9 611.9,641.6 612.3,642.6 612.8,642.7 613.3,642.6 613.8,641.8 614.3,642.5 614.9,641.3 615.4,641.5 615.9,640.6 616.5,641.0 617.0,641.1 617.5,640.0 618.0,640.1 618.5,641.1 619.1,641.1 619.6,641.6 620.1,641.5 620.7,640.9 621.2,641.1 621.7,641.5 622.2,640.7 622.6,640.1 623.1,639.9 623.6,638.0 624.1,637.9 624.5,636.4 625.0,636.4 625.5,635.6 626.0,635.5 626.5,636.4 627.0,636.3 627.5,636.1 628.0,635.7 628.5,635.9 629.0,637.2 629.5,636.3 630.0,636.4 630.5,635.9 631.0,636.6 631.5,635.4 632.0,634.6 632.5,634.1 633.0,635.1 633.5,634.7 634.0,633.9 634.5,634.2 635.0,634.2 635.5,633.3 636.0,633.1 636.5,633.6 637.0,634.5 637.5,633.8 638.0,633.7 638.5,634.1 639.0,633.8 639.5,635.1 640.0,635.2 640.5,635.3 641.0,634.8 641.5,634.6 642.1,633.8 642.6,633.3 643.1,633.7 643.6,633.0 644.1,633.7 644.6,633.2 645.2,633.8 645.7,633.0 646.2,633.3 646.7,632.0 647.2,632.4 647.7,631.4 648.2,632.4 648.7,632.2 649.2,631.4 649.7,631.4 650.2,631.4 650.7,631.8 651.2,631.5 651.7,630.9 652.2,629.7 652.7,629.9 653.2,628.4 653.8,628.2 654.3,627.1 654.8,626.9 655.3,625.7 655.8,624.8 656.3,624.6 656.8,623.6 657.3,623.3 657.8,623.2 658.3,622.3 658.8,622.1 659.3,621.1 659.8,620.8 660.3,620.6 660.8,620.6 661.3,621.6 661.8,621.3 662.3,621.1 662.8,621.9 663.3,622.1 663.8,622.3 664.3,622.9 664.8,622.0 665.2,622.8 665.7,622.6 666.2,621.7 666.7,622.2 667.2,622.0 667.7,622.1 668.2,623.4 668.8,624.3 669.3,624.9 669.8,625.9 670.3,627.0 670.8,626.5 671.3,626.5 671.8,626.6 672.4,627.8 672.9,628.1 673.4,628.3 674.0,628.8 674.5,628.7 675.0,628.6 675.5,628.6 676.0,628.5 676.5,627.3 677.0,627.7 677.5,626.3 678.0,625.8 678.5,626.5 679.0,626.3 679.5,625.2 680.0,625.7 680.5,624.6 680.9,625.1 681.4,624.8 681.9,624.8 682.4,625.0 682.8,625.3 683.3,624.8 683.8,624.4 684.3,623.5 684.9,623.0 685.4,622.4 685.9,621.8 686.5,621.7 687.0,620.6 687.5,620.4 688.0,619.3" fill="none" stroke="#7030A0" stroke-width="2.2" stroke-linejoin="round"/>
<polyline points="688.0,619.3 688.3,618.4 689.1,617.6 689.4,614.8 690.0,613.7 690.1,611.4 690.9,612.5 691.2,608.4 691.6,603.4 692.1,602.4 692.7,604.7 693.3,606.5 694.3,607.9 694.6,598.8 695.1,590.1 695.7,583.2 696.1,574.1 696.9,565.1 697.4,557.5 698.0,549.4 698.1,557.4 698.9,567.5 699.5,578.3 699.6,572.9 700.5,567.8 700.7,562.1 701.1,563.2 701.7,562.6 702.2,562.5 702.5,560.5 702.9,561.4 703.7,559.5 704.1,564.6 704.6,566.5 705.5,569.8 705.9,573.5 706.2,575.8 707.0,579.0 707.6,583.5 708.2,584.8 708.3,587.5 708.5,589.4 709.5,591.1 710.2,591.3 710.2,593.3 710.4,595.3 711.3,596.3 711.9,597.5 712.4,599.3 712.8,602.7 713.1,604.3 713.7,605.0 714.4,607.4 714.5,606.5 715.1,606.8 715.7,608.0 715.8,606.7 716.2,607.5 717.0,607.9 717.4,608.3 718.1,604.8 718.8,600.9 719.2,599.6 719.4,595.9 719.9,593.4 720.8,594.0 721.2,594.4 721.6,594.3 722.2,593.1 722.5,593.9 722.8,595.0 723.6,595.7 724.2,595.8 724.7,591.7 725.2,589.4 725.8,586.7 726.3,587.1 726.9,584.6 727.6,580.6 727.9,578.3 728.2,574.7 728.9,568.9 729.6,559.8 730.1,553.8 730.5,557.1 731.2,563.5 731.8,567.0 732.0,564.7 732.6,564.2 733.3,563.7 733.6,564.2 734.4,567.9 734.5,569.7 734.9,571.5 735.4,571.7 736.0,575.4 736.3,575.7 737.2,575.7 737.6,575.7 737.9,575.1 738.7,575.0 739.1,577.5 739.5,577.7 739.8,578.2 740.6,576.7 741.3,575.7 741.2,575.4 742.1,574.9 742.4,573.4 743.1,573.7 743.5,571.7 744.0,569.5 744.4,570.2 744.7,566.3 745.5,565.2 745.6,563.4 746.3,562.5 746.8,561.8 747.5,558.5 747.4,553.5 748.1,551.9 748.8,549.5 749.0,543.6 749.6,541.5 750.3,538.2 750.4,532.2 750.8,532.4 751.7,534.0 752.1,534.6 752.8,536.0 753.1,539.7 753.4,540.8 754.3,543.1 754.4,546.1 754.7,548.1 755.4,551.3 756.1,553.5 756.5,554.1 757.3,556.6 757.3,558.1 758.0,559.1 758.2,562.3 759.1,563.5 759.1,562.8 759.6,564.6 760.1,565.8 760.7,564.9 761.2,563.6 761.7,563.5 762.4,563.9 763.1,565.7 763.5,567.5 763.8,568.3 764.4,568.8 765.1,569.2 765.7,569.1 766.2,567.2 766.5,568.2 766.7,568.0 767.2,569.2 767.6,568.0 768.6,568.3 769.1,568.8 769.7,571.6 770.1,572.9 770.7,573.5 770.9,574.8 771.4,576.2 771.7,575.3 772.3,576.1 772.8,575.9 773.6,576.6 773.6,574.1 774.3,573.4 774.7,570.7 775.1,569.0 775.4,569.5 776.1,568.7 776.9,570.6 777.4,570.5 777.8,571.6 778.3,572.1 779.1,570.4 779.4,570.3 779.8,572.0 780.0,571.8 780.4,572.2 781.1,573.4 781.6,573.0 782.1,574.6 782.6,577.4 782.9,576.2 783.6,576.3 784.2,576.8 784.6,580.5 785.3,581.6 785.7,581.0 786.2,578.9 786.5,577.8 787.1,577.9 787.5,576.4 788.5,575.6 788.8,578.6 789.3,577.2 789.7,580.0 790.3,581.9 790.6,580.7 791.4,580.9 791.9,581.5 792.5,583.7 792.7,583.8 793.2,587.4 794.0,588.3 794.5,591.5 795.1,593.0 795.5,592.9 796.1,590.9 796.3,591.3 797.0,591.2 797.6,590.4 798.0,589.9 798.5,591.6 798.8,590.4 799.7,590.5 800.3,592.0 800.8,594.5 801.4,596.2 801.8,595.1 802.2,594.8 802.7,598.2 803.1,598.1 803.4,597.2 803.7,594.8 804.6,592.9 805.2,591.6 805.8,592.8 805.7,596.0 806.5,596.4 806.6,596.8 807.4,597.5 807.6,598.4 807.9,599.4 808.6,597.3 809.2,596.9 810.1,595.5 810.2,593.9 810.7,594.7 811.6,594.8 812.1,593.1 812.7,591.5 813.2,592.9 813.9,591.4 814.4,589.5 814.5,591.8 814.8,591.4 815.9,590.4 816.0,588.9 816.4,588.4 817.4,587.4 817.7,587.5 818.3,587.4 818.5,587.1 819.3,584.8 819.9,582.5 820.1,581.2 820.3,580.4 821.1,579.5 821.6,580.3 822.2,577.5 822.7,577.9 822.9,576.3 823.4,576.1 824.4,576.5 825.0,574.9 825.3,575.9 826.0,576.6 826.7,575.9 826.9,578.7 827.5,580.1 827.9,580.0 828.4,580.3 828.6,580.9 829.1,580.2 829.9,578.9 830.1,580.6 830.9,582.2 831.4,582.8 831.9,581.9 832.4,581.6 832.8,583.6 833.5,584.7 833.8,583.2 834.3,581.7 835.0,580.3 835.1,579.9 835.6,579.2 836.3,579.2 836.6,578.9 837.2,578.9 837.7,578.7 838.6,578.4 839.0,578.2 839.5,578.5 840.1,578.7 840.5,580.8 840.5,581.0 841.3,581.0 842.0,579.6 842.6,581.3 842.6,580.8 842.8,580.2 843.9,581.1 844.3,581.2 844.9,579.8 845.1,579.8 845.8,580.9 846.4,580.2 846.9,578.2 847.4,578.6 847.7,577.6 848.2,576.2 848.7,576.6 849.3,576.5 850.1,577.3 850.4,576.6 851.0,578.6 851.1,577.8 851.8,579.5 852.5,578.0 852.6,577.4 853.0,576.8 854.0,577.1 854.4,576.6 855.1,574.0 855.7,575.1 855.6,569.9 856.2,563.4 856.5,558.5 857.1,561.3 857.9,562.8 858.1,563.0 858.4,565.1 858.8,565.2 859.8,567.9 860.2,568.0 860.6,569.2 861.1,569.4 861.9,569.7 862.0,571.3 862.9,570.9 863.6,572.5 864.0,573.2 864.4,571.8 865.0,571.8 865.7,570.9 866.3,572.6 866.3,571.2 867.0,570.7 867.0,571.0 868.0,569.6 868.1,569.9 868.9,570.3 869.0,571.6 869.4,571.5 870.1,571.3 870.5,569.3 871.3,570.0 871.6,572.1 872.3,568.4 872.8,566.2 873.4,565.4 873.7,562.3 874.3,560.7 874.7,559.8 875.0,559.0 875.6,558.3 875.8,556.2 876.6,556.1 877.0,557.0 877.6,556.3 877.9,558.2 878.2,560.6 879.2,562.4 879.9,561.3 880.0,564.4 880.8,564.0 881.4,563.0 881.8,562.8 882.1,563.2 882.7,565.8 883.0,566.0 883.5,565.5 883.9,566.1 884.4,565.6 884.8,566.2 885.5,567.3 886.2,567.7 886.9,567.5 887.5,566.1 888.1,564.5 888.7,566.0 888.7,564.3 889.0,564.2 889.6,563.9 889.9,563.1 890.9,560.2 891.5,557.8 891.9,559.4 892.2,560.0 893.0,563.2 893.2,562.5 893.6,563.0 894.4,564.4 895.3,565.7 895.6,565.1 896.2,566.8 896.7,567.0 896.9,566.2 897.1,568.2 898.2,568.1 898.3,569.3 898.9,570.1 899.7,567.7 900.4,568.2 900.9,567.5 900.8,568.2 901.6,568.2 902.2,570.9 902.5,571.3 902.9,570.7 903.2,570.0 904.2,570.6 904.4,573.2 904.7,574.5 905.1,573.8 906.2,573.2 906.7,573.4 907.3,573.1 907.9,572.4 908.3,572.8 908.9,571.3 908.9,573.0 909.7,571.9 910.3,573.0 910.6,571.9 911.4,573.1 911.3,571.7 911.7,573.8 912.3,572.2 913.2,571.6 913.3,571.6 913.9,573.3 914.7,574.9 915.4,573.3 915.6,573.0 915.8,573.7 916.7,573.6 917.0,574.6 917.5,576.9 917.9,575.6 918.3,576.0 919.0,577.3 919.5,576.7 920.4,573.8 920.8,574.4 921.2,572.0 921.8,571.7 922.2,569.5 922.8,570.9 922.9,571.6 923.6,572.2 924.4,571.6 924.4,572.0 925.3,573.2 925.6,574.9 926.4,574.9 926.7,577.1 927.1,576.3 928.0,576.7 928.6,575.8 929.0,576.0 929.5,576.9 930.2,575.5 930.2,574.6 930.9,574.6 931.7,575.7 931.7,575.2 932.2,574.6 932.7,577.0 933.2,577.1 933.9,576.5 934.4,575.5 934.7,578.3 935.3,577.9 935.6,577.3 935.8,579.0 936.5,577.8 936.8,577.2 937.8,579.8 938.5,579.9 939.0,581.2 939.5,580.4 939.7,580.4 939.8,580.2 940.8,582.3 941.2,583.5 941.8,582.6 942.2,580.5 942.9,578.9 943.0,579.8 943.8,579.7 944.6,577.1 944.8,579.8 944.9,579.0 945.8,580.2 945.9,579.0 946.8,579.5 947.3,571.7 947.5,565.3 947.9,557.9 948.6,551.1 949.1,549.4 949.7,545.8 950.5,543.2 950.5,544.0 951.0,546.3 951.6,546.5 952.0,548.5 952.6,551.5 953.1,553.4 953.9,551.7 954.0,552.9 954.9,554.7 955.4,555.2 955.6,557.9 956.5,558.3 957.0,558.0 957.5,557.4 958.0,559.0 958.5,559.8 959.1,559.1 959.5,560.6 959.9,562.2 960.5,563.4 960.6,560.9 961.5,561.1 961.8,559.4 962.7,559.3 962.7,558.6 963.4,557.5 964.0,555.7 964.4,555.7 964.7,555.3 965.3,554.7 966.1,551.6 966.8,550.2 967.2,549.3 967.6,548.5 968.0,544.2 968.4,543.0 969.2,543.9 969.7,542.8 970.0,539.7 970.2,539.5 970.5,540.3 971.7,539.8 971.7,537.5 972.1,536.5 972.9,537.3 973.6,534.7 974.0,534.4 974.8,532.8 975.3,533.9 975.8,533.6 976.2,531.2 976.2,530.4 976.8,532.0 977.3,531.4 977.9,532.2 978.5,534.0 978.8,531.8 979.6,530.2 979.7,531.4 980.3,529.2 980.9,528.8 981.1,530.9 981.9,531.1 982.1,533.7 983.0,534.5 983.7,535.4 983.7,534.5 984.2,536.9 984.8,537.3 985.0,537.5 985.4,536.3 985.8,537.7 986.4,536.2 987.2,536.1 987.9,536.2 988.1,535.7 989.0,534.2 989.5,533.2 989.7,533.2 989.8,534.2 990.7,533.6 990.8,533.8 991.3,533.0 991.6,532.7 992.4,531.9 992.8,531.9 993.5,533.9 994.0,534.0 994.6,535.4 995.3,536.5 995.4,538.4 996.0,538.1 996.3,537.3 996.9,537.8 997.2,539.0 998.0,539.1 998.2,536.9 999.0,535.7 999.6,533.9 999.8,535.1 1000.4,532.5 1000.6,532.9 1001.2,529.7 1001.5,530.7 1001.9,532.7 1002.6,533.4 1003.2,532.2 1003.8,533.1 1004.4,534.6 1004.8,534.5 1005.7,535.9 1005.9,537.6 1006.3,538.2 1006.6,538.8 1007.3,539.9 1008.2,540.7 1008.8,539.5 1008.9,542.2 1009.7,542.7 1010.2,541.4 1010.5,541.0 1010.9,540.2 1011.2,541.9 1011.6,540.6 1012.0,539.7 1012.7,539.1 1013.3,539.1 1013.5,539.9 1014.5,539.9 1015.0,541.4 1015.2,541.5 1015.6,539.7 1016.2,542.2 1016.6,541.8 1017.3,540.4 1018.0,540.3 1018.1,542.1 1018.4,541.8 1019.1,541.7 1019.7,542.6 1020.6,542.0 1021.4,543.1 1021.7,543.0 1022.0,545.4 1022.3,546.0 1022.7,546.8 1023.7,548.1 1023.9,547.3 1024.3,548.9 1024.9,549.7 1025.5,551.5 1026.0,552.5 1026.7,552.5 1027.3,553.9 1027.7,553.6 1027.9,553.3 1028.6,550.7 1029.2,549.7 1029.8,548.1 1029.9,547.0 1030.4,546.5 1031.2,545.7 1031.8,547.2 1032.5,546.7 1032.7,549.6 1033.3,551.1 1033.4,549.1 1034.4,549.4 1035.0,548.5 1035.6,549.4 1035.6,548.9 1035.7,548.6 1036.3,546.5 1036.9,546.7 1037.2,544.1 1037.8,542.0 1038.1,541.3 1038.9,541.4 1039.6,538.1 1039.8,538.2 1040.3,538.1 1041.3,541.1 1041.5,543.4 1042.4,535.1 1042.4,526.3 1043.0,517.2 1043.7,504.2" fill="none" stroke="#7030A0" stroke-width="2.7" stroke-linejoin="round"/>
<polyline points="80.8,661.4 81.3,661.4 81.8,661.7 82.3,661.0 82.8,661.0 83.3,661.9 83.8,662.0 84.3,661.8 84.9,661.6 85.4,661.4 85.9,661.5 86.4,661.6 86.9,661.1 87.4,661.5 87.9,661.5 88.4,661.5 88.9,661.0 89.4,660.9 89.9,661.4 90.4,660.6 90.9,661.3 91.5,661.1 92.0,660.9 92.5,660.6 93.0,660.7 93.5,660.9 94.0,661.1 94.5,660.9 95.0,661.1 95.5,661.2 96.0,660.9 96.5,661.0 97.0,660.3 97.5,660.8 98.0,660.0 98.5,660.1 99.0,660.0 99.6,660.6 100.1,660.5 100.6,660.6 101.1,660.8 101.6,660.4 102.1,660.0 102.6,660.2 103.1,659.8 103.6,660.1 104.1,659.5 104.6,659.6 105.1,660.3 105.6,660.1 106.1,660.2 106.6,660.1 107.1,660.5 107.7,660.0 108.2,659.6 108.7,660.3 109.2,660.0 109.7,659.8 110.2,659.2 110.7,659.7 111.2,659.9 111.7,660.0 112.2,660.0 112.7,659.2 113.2,659.8 113.7,659.4 114.2,659.7 114.7,659.5 115.1,659.5 115.6,659.4 116.1,659.9 116.6,659.9 117.1,659.5 117.6,660.0 118.1,659.4 118.6,659.8 119.1,659.5 119.6,660.0 120.1,660.2 120.6,659.7 121.1,660.2 121.6,659.5 122.0,659.7 122.5,660.1 123.0,659.4 123.5,660.0 124.0,660.2 124.5,659.4 125.0,660.0 125.5,659.7 126.0,659.7 126.5,660.4 127.0,659.5 127.5,660.4 128.1,660.1 128.6,660.7 129.1,660.7 129.6,660.7 130.1,660.3 130.6,660.1 131.1,660.5 131.6,661.0 132.1,661.3 132.6,661.5 133.1,661.5 133.6,660.6 134.2,660.4 134.7,661.0 135.2,661.0 135.7,661.3 136.2,661.0 136.7,661.2 137.2,661.2 137.7,661.4 138.2,661.1 138.7,662.0 139.2,662.2 139.7,662.1 140.2,661.5 140.7,661.6 141.2,661.8 141.7,662.4 142.2,661.8 142.7,661.7 143.2,662.8 143.7,662.1 144.2,662.2 144.7,662.4 145.2,662.7 145.7,662.5 146.2,662.3 146.7,663.1 147.2,662.5 147.7,662.6 148.2,663.2 148.7,663.3 149.2,662.9 149.7,662.9 150.2,662.7 150.7,662.7 151.2,662.8 151.7,662.2 152.2,662.5 152.7,663.1 153.2,663.3 153.7,662.6 154.2,662.1 154.7,662.6 155.2,662.9 155.7,663.0 156.2,662.2 156.7,661.8 157.2,662.7 157.7,662.3 158.2,663.2 158.7,662.5 159.1,662.5 159.6,663.3 160.1,663.9 160.6,664.1 161.1,664.2 161.6,664.2 162.1,664.4 162.6,663.7 163.0,664.1 163.5,664.0 164.0,664.0 164.5,664.7 165.0,664.6 165.5,664.6 166.0,664.4 166.5,665.4 167.0,665.6 167.6,665.7 168.1,665.8 168.6,665.7 169.1,666.2 169.6,665.5 170.1,666.4 170.6,666.2 171.1,665.9 171.6,665.9 172.2,666.1 172.7,666.7 173.2,666.5 173.7,666.7 174.2,667.0 174.7,666.6 175.2,666.8 175.7,666.4 176.2,666.5 176.7,666.2 177.2,666.5 177.7,666.6 178.2,667.0 178.8,666.7 179.3,667.0 179.8,667.0 180.3,666.6 180.8,666.1 181.3,666.5 181.8,666.8 182.3,666.1 182.8,665.8 183.3,666.5 183.8,666.0 184.3,665.8 184.8,666.3 185.3,665.6 185.8,665.6 186.4,666.0 186.9,665.4 187.4,665.7 187.9,665.5 188.4,666.3 188.9,666.1 189.4,665.6 189.9,665.3 190.4,666.1 190.9,666.4 191.4,666.3 191.9,665.6 192.5,665.8 193.0,665.4 193.5,666.1 194.0,665.8 194.5,665.6 195.0,665.8 195.5,665.7 196.0,665.8 196.5,665.2 197.0,665.6 197.5,666.1 198.0,665.6 198.4,665.7 198.9,665.8 199.4,665.5 199.9,665.0 200.4,665.7 200.9,666.0 201.4,665.5 201.9,666.0 202.4,665.8 202.9,666.1 203.4,665.6 203.9,665.7 204.4,665.5 204.9,665.2 205.3,665.1 205.8,665.8 206.3,665.4 206.8,665.5 207.3,666.1 207.8,666.0 208.3,665.8 208.8,666.0 209.3,665.8 209.8,666.5 210.4,666.9 210.9,667.3 211.4,667.1 211.9,667.3 212.4,667.5 212.9,667.9 213.5,667.8 214.0,667.2 214.5,667.9 215.0,668.0 215.5,667.6 216.0,667.3 216.5,667.9 217.1,668.0 217.6,668.4 218.1,668.4 218.6,667.5 219.1,667.4 219.6,667.8 220.2,667.6 220.7,668.0 221.2,668.3 221.7,668.5 222.2,668.4 222.7,668.5 223.1,668.7 223.6,668.7 224.1,667.9 224.6,667.7 225.1,667.8 225.6,668.5 226.1,668.5 226.5,668.4 227.0,668.9 227.5,668.5 228.0,668.9 228.5,668.6 229.0,668.7 229.5,668.0 230.0,668.7 230.5,668.5 231.0,668.1 231.5,668.1 232.0,667.7 232.5,667.6 233.0,667.5 233.5,667.8 234.0,668.2 234.5,668.0 235.0,667.4 235.5,667.3 236.0,667.5 236.5,667.7 237.1,667.0 237.6,667.5 238.1,667.6 238.6,667.7 239.1,666.9 239.6,667.2 240.2,666.6 240.7,666.8 241.2,666.6 241.7,665.8 242.2,665.8 242.7,665.6 243.2,666.6 243.7,667.1 244.1,667.1 244.6,667.3 245.1,666.6 245.6,667.2 246.1,666.6 246.6,666.2 247.1,666.4 247.6,667.2 248.0,667.3 248.5,667.4 249.0,667.6 249.5,667.1 250.0,667.4 250.5,666.8 251.0,667.1 251.5,667.2 252.0,666.9 252.5,667.0 253.1,666.7 253.6,666.9 254.1,666.3 254.6,666.6 255.1,667.0 255.6,667.1 256.1,666.4 256.6,665.8 257.1,666.6 257.6,666.4 258.1,665.7 258.6,665.7 259.2,665.5 259.7,665.9 260.2,665.6 260.7,665.4 261.2,665.6 261.7,665.8 262.2,666.0 262.7,665.7 263.2,666.4 263.7,665.8 264.2,665.8 264.7,665.8 265.2,666.0 265.7,666.6 266.2,667.1 266.7,666.8 267.2,666.9 267.7,667.5 268.2,667.7 268.7,667.6 269.2,667.8 269.7,667.5 270.2,667.1 270.7,667.9 271.2,668.1 271.7,667.7 272.2,668.6 272.7,668.3 273.2,668.0 273.7,668.8 274.2,669.1 274.7,668.9 275.2,668.9 275.7,669.4 276.2,669.6 276.7,669.6 277.2,669.9 277.8,669.2 278.3,668.9 278.8,669.5 279.3,669.6 279.8,669.1 280.3,669.2 280.8,669.5 281.3,670.1 281.8,669.6 282.3,669.8 282.8,669.7 283.3,670.4 283.8,670.9 284.3,670.4 284.8,670.1 285.3,670.3 285.8,670.2 286.3,670.1 286.8,670.7 287.3,670.3 287.8,670.7 288.3,670.1 288.8,670.4 289.3,669.9 289.8,670.6 290.3,671.1 290.8,671.3 291.3,670.4 291.8,670.4 292.3,669.9 292.8,669.8 293.3,670.0 293.8,670.3 294.3,669.9 294.8,670.5 295.3,671.1 295.8,670.5 296.3,670.9 296.8,670.7 297.3,670.7 297.8,670.3 298.3,670.7 298.8,671.2 299.3,671.1 299.8,671.2 300.3,670.8 300.8,670.4 301.3,670.8 301.8,670.9 302.3,670.6 302.8,671.1 303.3,671.5 303.8,670.8 304.3,670.8 304.8,671.3 305.3,671.2 305.8,671.1 306.3,671.0 306.8,671.3 307.3,670.7 307.8,670.8 308.3,671.5 308.8,671.5 309.3,671.8 309.8,671.3 310.2,671.1 310.7,671.8 311.2,671.3 311.7,671.1 312.2,671.0 312.7,670.8 313.2,670.9 313.7,671.3 314.2,671.9 314.7,672.1 315.2,671.5 315.7,671.1 316.2,671.5 316.7,671.7 317.2,671.4 317.7,671.2 318.2,671.2 318.7,671.9 319.2,671.5 319.7,672.1 320.1,671.7 320.6,672.4 321.1,672.7 321.6,672.2 322.1,672.0 322.6,671.9 323.1,671.7 323.6,671.9 324.1,671.7 324.6,672.7 325.1,673.1 325.6,672.5 326.1,672.5 326.6,672.3 327.0,672.3 327.5,672.8 328.0,672.7 328.5,672.6 329.0,673.1 329.5,673.0 330.0,673.3 330.5,673.5 331.0,672.7 331.5,672.4 332.0,673.2 332.5,673.4 333.0,672.4 333.4,673.0 333.9,673.1 334.4,673.2 334.9,673.0 335.4,672.4 335.9,672.5 336.4,672.5 336.9,672.5 337.4,673.3 337.9,673.4 338.4,672.8 338.9,672.5 339.4,672.7 339.9,672.6 340.3,672.5 340.8,672.6 341.3,672.8 341.8,673.4 342.3,672.9 342.8,672.3 343.3,673.1 343.8,672.5 344.3,672.7 344.8,672.9 345.3,673.2 345.8,673.3 346.3,673.7 346.8,673.4 347.3,673.5 347.8,673.9 348.3,674.1 348.8,673.7 349.3,674.2 349.8,673.8 350.2,673.9 350.7,674.4 351.2,674.6 351.7,675.1 352.2,675.4 352.7,675.4 353.2,675.6 353.7,675.3 354.2,675.1 354.7,675.7 355.2,675.1 355.7,675.3 356.2,676.0 356.7,675.6 357.2,675.7 357.7,675.9 358.2,675.7 358.7,676.3 359.2,675.4 359.7,675.9 360.2,675.2 360.7,675.4 361.2,676.0 361.7,675.5 362.2,675.6 362.8,675.2 363.3,674.9 363.8,674.7 364.3,675.2 364.8,674.9 365.3,675.2 365.8,675.4 366.3,676.0 366.8,675.6 367.3,675.2 367.8,674.8 368.3,675.3 368.8,675.8 369.3,676.3 369.8,675.8 370.3,676.0 370.8,676.0 371.3,676.1 371.8,677.2 372.3,677.7 372.8,677.2 373.3,676.9 373.8,677.2 374.3,677.8 374.8,677.5 375.3,677.1 375.8,677.1 376.3,677.2 376.8,677.0 377.3,677.4 377.9,677.7 378.4,677.8 378.9,677.2 379.4,677.3 379.9,677.5 380.4,677.4 380.9,677.8 381.4,677.6 381.9,677.3 382.4,677.6 382.9,677.9 383.4,677.5 383.9,677.5 384.4,677.7 384.9,677.9 385.4,677.2 386.0,677.8 386.5,677.7 387.0,677.5 387.5,677.6 388.0,677.2 388.5,677.7 389.0,677.3 389.5,677.9 390.0,678.2 390.5,677.7 390.9,676.4 391.4,676.6 391.9,676.1 392.4,675.4 392.8,675.3 393.3,674.5 393.8,674.4 394.3,673.9 394.8,673.7 395.3,673.8 395.8,673.1 396.3,672.9 396.8,672.6 397.3,672.7 397.7,673.0 398.2,672.4 398.7,671.8 399.2,672.3 399.7,672.2 400.2,671.5 400.7,671.6 401.2,671.1 401.7,670.2 402.2,670.8 402.7,670.6 403.2,669.7 403.7,670.0 404.2,669.7 404.7,669.3 405.3,668.8 405.8,668.7 406.3,668.7 406.8,669.0 407.3,668.9 407.8,668.9 408.3,668.5 408.8,667.3 409.3,666.0 409.8,665.0 410.2,664.4 410.7,663.9 411.2,662.6 411.7,661.8 412.2,660.3 412.7,657.6 413.2,656.1 413.7,654.3 414.2,652.2 414.7,652.1 415.2,651.6 415.7,652.2 416.2,651.4 416.8,652.0 417.3,651.8 417.8,651.9 418.3,652.0 418.8,652.4 419.3,652.9 419.8,654.0 420.3,655.5 420.8,656.3 421.3,656.4 421.9,656.2 422.4,655.6 422.9,656.1 423.4,655.6 423.9,655.2 424.5,655.7 425.0,655.9 425.5,655.8 426.0,656.5 426.5,657.3 427.0,658.2 427.5,658.7 428.0,659.1 428.5,659.3 429.0,660.2 429.5,660.1 430.0,661.0 430.5,660.7 431.0,661.1 431.4,660.3 431.9,659.6 432.4,659.6 432.9,659.9 433.4,658.8 433.9,658.3 434.4,658.9 434.8,658.0 435.3,657.8 435.8,657.6 436.3,657.5 436.9,657.4 437.4,657.3 437.9,657.5 438.4,658.3 438.9,658.6 439.5,658.5 440.0,658.6 440.5,659.4 440.9,658.9 441.4,660.0 441.9,660.4 442.4,660.5 442.8,661.0 443.3,661.1 443.8,661.3 444.3,661.6 444.8,662.4 445.4,663.2 445.9,662.9 446.4,662.8 446.9,663.6 447.4,663.7 447.9,663.8 448.5,664.6 449.0,665.5 449.5,665.4 450.0,665.2 450.5,665.6 451.0,665.6 451.4,664.7 451.9,664.3 452.4,664.4 452.9,663.7 453.4,663.7 453.9,663.5 454.4,662.9 454.8,663.1 455.3,663.3 455.8,663.1 456.3,663.3 456.8,662.9 457.3,664.0 457.7,664.2 458.2,664.1 458.7,665.1 459.2,664.7 459.7,665.0 460.2,664.4 460.7,664.7 461.2,663.6 461.8,663.4 462.3,663.9 462.8,662.9 463.3,662.6 463.8,663.5 464.3,663.9 464.8,663.5 465.3,663.7 465.8,663.7 466.3,663.7 466.8,664.6 467.3,664.8 467.7,664.4 468.2,664.2 468.7,665.1 469.2,665.2 469.7,665.1 470.2,665.8 470.7,665.4 471.2,665.2 471.7,665.4 472.2,664.9 472.7,664.8 473.2,664.9 473.7,664.2 474.2,664.1 474.7,664.2 475.2,663.2 475.7,662.6 476.2,662.7 476.7,662.2 477.2,662.0 477.7,661.7 478.2,661.4 478.7,660.7 479.2,660.6 479.7,660.9 480.2,661.0 480.7,661.1 481.2,661.4 481.7,661.6 482.2,661.8 482.7,661.6 483.2,661.5 483.7,661.7 484.2,662.0 484.7,662.5 485.2,663.2 485.7,663.7 486.2,663.2 486.7,663.6 487.2,663.6 487.7,663.7 488.2,663.5 488.7,662.4 489.2,661.9 489.7,662.5 490.2,662.4 490.7,661.8 491.2,661.2 491.7,662.0 492.2,662.1 492.7,662.1 493.2,662.3 493.7,661.8 494.2,662.6 494.7,662.5 495.2,662.8 495.7,662.5 496.2,662.1 496.7,662.7 497.2,662.2 497.7,661.8 498.1,661.8 498.6,661.9 499.1,661.6 499.6,661.9 500.1,661.3 500.6,661.8 501.1,661.5 501.5,661.7 502.0,660.8 502.5,660.6 503.0,660.8 503.5,661.3 503.9,661.7 504.4,661.9 504.9,661.9 505.4,662.5 505.9,662.8 506.4,663.1 506.9,662.9 507.3,663.2 507.8,662.9 508.3,663.3 508.8,662.9 509.3,663.1 509.8,663.6 510.3,663.8 510.8,664.6 511.3,664.0 511.8,664.5 512.3,665.2 512.7,665.0 513.2,665.3 513.7,665.9 514.2,665.7 514.7,666.0 515.2,666.2 515.7,665.7 516.2,665.9 516.7,666.9 517.2,666.6 517.7,667.1 518.2,667.5 518.6,668.1 519.1,667.5 519.6,668.1 520.1,668.1 520.6,668.0 521.0,667.7 521.5,668.6 522.0,668.9 522.5,669.4 523.0,668.6 523.5,668.1 524.0,667.8 524.4,668.0 524.9,668.4 525.4,668.6 525.9,667.9 526.4,667.8 526.8,668.2 527.3,668.4 527.8,667.7 528.3,667.8 528.8,667.5 529.3,667.8 529.8,668.2 530.3,668.1 530.8,667.6 531.2,667.8 531.7,668.4 532.2,668.6 532.7,667.9 533.2,668.5 533.7,668.7 534.2,668.1 534.7,667.5 535.2,667.4 535.7,666.9 536.2,667.1 536.8,666.2 537.3,665.7 537.8,665.4 538.3,665.6 538.8,664.7 539.3,663.1 539.9,662.8 540.4,661.4 540.9,660.8 541.5,660.1 542.0,659.3 542.5,659.0 543.0,659.1 543.5,659.6 544.1,660.4 544.6,660.9 545.1,661.2 545.7,661.7 546.2,662.1 546.7,663.1 547.2,662.5 547.7,662.0 548.2,661.5 548.7,661.9 549.2,661.1 549.7,660.6 550.2,660.9 550.7,660.8 551.2,660.9 551.7,661.0 552.2,661.1 552.7,660.0 553.2,659.5 553.7,660.0 554.2,659.8 554.7,660.2 555.2,660.8 555.7,661.0 556.2,661.0 556.7,662.0 557.2,661.4 557.7,661.7 558.2,662.0 558.7,663.0 559.2,663.9 559.7,664.3 560.2,663.8 560.7,664.2 561.2,664.1 561.7,664.9 562.2,665.4 562.7,665.1 563.2,664.9 563.7,665.0 564.2,664.8 564.7,664.8 565.3,664.5 565.8,665.1 566.3,665.0 566.8,664.8 567.3,664.5 567.8,665.4 568.3,665.8 568.8,665.4 569.3,665.3 569.9,664.9 570.4,664.3 570.9,664.4 571.5,665.0 572.0,664.8 572.5,664.0 573.0,663.6 573.4,661.7 573.9,661.2 574.4,659.7 574.9,658.1 575.3,657.2 575.8,655.7 576.3,655.6 576.8,655.9 577.3,656.8 577.8,656.7 578.3,656.6 578.8,656.3 579.2,656.9 579.7,657.6 580.2,656.9 580.7,656.6 581.2,657.4 581.7,657.7 582.2,658.1 582.7,657.9 583.2,657.6 583.7,657.7 584.2,658.0 584.7,658.4 585.2,658.2 585.7,658.9 586.2,659.3 586.7,659.1 587.2,659.7 587.6,660.0 588.1,660.5 588.6,660.7 589.1,661.0 589.5,661.8 590.0,662.2 590.5,662.1 591.0,662.2 591.5,661.3 592.1,661.2 592.6,661.4 593.1,661.2 593.6,661.8 594.1,661.7 594.6,661.5 595.2,661.5 595.7,660.6 596.2,660.9 596.7,660.8 597.2,660.6 597.7,661.2 598.2,660.9 598.7,661.1 599.2,661.7 599.7,662.0 600.3,661.6 600.8,661.3 601.3,661.5 601.8,662.0 602.3,662.4 602.8,663.0 603.3,662.4 603.8,663.2 604.3,662.5 604.9,663.0 605.4,662.8 605.9,662.8 606.5,663.6 607.0,663.5 607.5,663.2 608.0,663.3 608.5,663.0 609.0,662.4 609.5,663.0 610.1,662.2 610.6,661.7 611.1,661.9 611.6,662.0 612.1,662.1 612.6,662.1 613.1,661.1 613.6,660.6 614.1,660.3 614.7,660.0 615.2,660.0 615.7,660.1 616.2,660.0 616.7,659.7 617.2,660.4 617.7,659.8 618.2,659.8 618.7,660.4 619.2,660.0 619.7,660.6 620.2,660.2 620.7,659.9 621.2,659.7 621.7,660.3 622.2,660.1 622.7,659.5 623.2,659.9 623.6,659.2 624.1,658.7 624.6,658.9 625.1,658.8 625.6,659.0 626.0,658.2 626.5,658.3 627.0,657.3 627.5,657.2 628.0,657.7 628.5,656.9 629.0,657.7 629.5,657.2 630.0,657.1 630.5,657.6 631.0,657.5 631.5,657.4 632.0,657.1 632.5,656.8 633.0,657.3 633.5,656.5 634.0,656.7 634.5,656.5 635.0,656.4 635.5,656.7 635.9,657.1 636.4,657.3 636.9,657.5 637.4,658.3 637.8,658.8 638.3,659.0 638.8,659.4 639.3,658.9 639.8,658.9 640.3,659.2 640.8,658.3 641.3,658.2 641.8,657.9 642.3,658.3 642.7,657.4 643.2,657.1 643.7,656.9 644.2,657.6 644.7,657.1 645.2,657.3 645.7,656.7 646.2,656.8 646.7,656.9 647.2,657.1 647.7,656.3 648.2,655.9 648.6,656.5 649.1,656.1 649.6,656.6 650.1,655.8 650.6,655.7 651.0,655.5 651.5,655.2 652.0,655.4 652.5,655.3 653.0,655.0 653.4,654.8 653.9,653.9 654.4,653.7 654.9,652.5 655.3,652.2 655.8,651.4 656.3,651.3 656.8,651.4 657.3,651.7 657.8,650.7 658.3,650.2 658.8,650.9 659.3,650.7 659.8,650.0 660.3,649.8 660.8,649.6 661.3,650.1 661.9,650.9 662.4,651.1 662.9,651.1 663.4,650.8 664.0,651.4 664.5,651.4 665.0,651.7 665.5,651.9 666.0,652.2 666.5,652.4 667.0,652.8 667.5,652.6 668.0,652.9 668.5,653.9 669.0,654.1 669.5,653.6 670.0,654.6 670.5,654.6 671.0,654.5 671.5,654.7 672.0,655.0 672.5,654.4 673.0,654.7 673.5,655.2 674.0,655.2 674.5,655.3 675.0,655.5 675.5,655.2 676.0,654.1 676.5,653.8 677.0,653.6 677.5,653.4 678.0,652.6 678.5,652.2 679.0,651.5 679.5,650.6 680.0,651.0 680.5,650.0 681.0,649.7 681.5,649.6 682.0,648.9 682.5,648.1 683.0,647.9 683.5,647.5 684.0,647.2 684.5,646.8 685.0,646.9 685.5,646.3 686.0,645.0 686.6,644.9 687.1,643.5 687.6,643.4" fill="none" stroke="#FF0000" stroke-width="3.1" stroke-linejoin="round"/>
<polyline points="687.6,643.4 688.0,643.3 688.6,642.7 688.9,641.1 689.7,639.8 689.9,637.4 690.4,635.1 691.3,635.7 691.9,634.6 692.2,630.6 693.0,629.9 693.6,628.3 694.2,628.9 694.5,630.4 694.9,629.3 695.2,620.1 695.6,613.0 696.0,598.4 696.9,584.4 697.7,594.4 697.8,602.8 698.6,611.8 699.1,609.8 699.2,607.4 699.8,604.6 700.4,599.9 700.8,595.9 701.3,590.6 701.9,587.2 702.4,584.1 703.0,582.8 703.8,581.1 704.5,579.4 705.1,581.2 705.3,585.1 705.5,585.7 706.4,589.5 706.8,592.4 706.9,593.2 707.9,594.5 708.3,594.6 708.8,597.1 708.9,597.5 709.8,599.4 710.0,601.2 710.7,603.9 711.2,605.8 711.3,608.3 712.0,610.0 712.1,614.5 712.6,616.1 713.4,618.9 713.9,618.3 714.2,618.7 714.7,619.3 715.4,618.3 715.6,617.4 716.5,620.0 717.0,620.8 717.4,622.2 718.0,618.8 718.2,618.4 718.8,617.2 719.6,615.5 719.8,611.7 720.8,612.1 721.2,611.6 721.8,610.3 722.4,610.2 723.0,608.4 723.3,609.1 723.5,606.4 724.1,606.8 724.7,606.1 724.9,604.3 725.7,602.1 726.4,601.3 726.6,598.2 726.8,597.9 727.2,593.1 727.9,591.2 728.8,588.6 728.9,586.0 729.8,583.2 730.6,580.5 731.0,578.1 731.5,580.7 731.8,581.3 732.3,585.1 733.3,584.2 733.9,584.2 734.3,583.4 734.5,584.3 735.1,586.2 735.3,589.2 735.7,591.9 736.1,593.5 736.6,595.7 737.3,596.1 737.9,595.4 738.7,593.3 739.1,591.9 739.9,591.8 739.8,591.4 740.8,589.9 741.0,589.7 741.4,587.1 741.8,587.1 742.4,586.8 743.2,585.5 743.7,583.2 744.0,582.7 744.7,580.3 745.0,579.0 745.6,575.0 746.1,573.2 746.3,571.8 746.9,568.8 747.4,565.4 747.9,562.8 748.8,560.8 748.9,558.7 749.7,554.6 749.7,550.5 750.7,547.1 751.0,551.3 751.8,553.8 752.2,559.2 752.7,561.3 752.9,561.6 753.3,562.8 753.8,564.5 754.8,566.0 755.5,570.1 755.8,571.8 756.4,574.4 756.8,576.2 757.4,577.5 757.4,577.9 758.3,578.8 758.7,579.0 758.9,579.5 759.2,581.5 760.0,582.3 760.7,582.5 760.9,584.0 761.6,584.6 762.1,584.6 762.7,584.7 762.9,585.3 763.6,585.7 764.3,585.6 764.6,585.4 765.1,586.2 765.7,585.8 766.1,585.7 766.7,586.8 767.4,588.4 767.9,587.7 768.2,588.3 768.8,587.6 769.0,588.1 769.3,588.7 769.8,589.1 770.3,590.1 771.2,591.3 771.5,592.3 772.2,592.3 772.5,592.6 773.2,589.9 773.5,589.3 773.7,588.2 774.7,587.3 774.8,586.5 775.6,586.6 776.1,585.6 776.3,585.8 776.7,585.8 777.3,588.4 778.2,589.5 778.7,588.6 779.0,589.8 779.2,588.7 779.7,588.5 780.4,587.8 780.7,588.4 781.2,588.1 781.9,589.7 782.6,590.5 782.9,591.5 783.4,592.2 783.6,591.8 784.4,592.1 784.7,593.5 785.0,593.9 785.6,594.6 786.5,594.3 787.2,591.8 787.8,590.8 787.9,592.1 788.2,590.3 789.0,590.8 789.7,590.6 790.3,588.5 790.4,589.1 791.1,590.1 791.5,590.9 792.1,592.6 792.4,593.6 792.8,594.8 793.0,596.4 793.4,595.9 794.4,596.8 794.9,598.0 795.5,599.8 795.6,599.2 796.0,600.1 796.3,601.1 797.2,600.5 797.4,599.9 797.8,600.9 798.6,601.5 799.1,601.7 799.4,600.6 800.3,599.0 800.3,599.9 801.0,602.7 801.8,603.5 801.9,604.8 802.6,604.7 802.8,604.9 803.4,603.5 804.2,602.2 804.3,602.9 805.0,602.7 805.4,602.1 805.9,604.1 806.2,605.0 806.9,606.5 807.0,606.2 807.4,606.0 807.9,606.5 808.6,605.8 809.1,605.1 809.5,605.7 810.6,605.9 811.3,606.2 811.7,604.6 812.4,604.3 812.8,604.7 812.8,605.9 813.7,604.9 814.0,606.6 814.2,605.3 815.0,607.1 815.7,605.6 815.8,605.6 816.8,604.8 817.4,604.2 817.8,602.3 818.4,600.2 818.7,600.2 819.0,598.1 819.9,598.4 820.6,598.6 820.7,597.8 821.1,597.6 821.6,598.9 822.3,598.0 823.1,597.9 823.6,598.4 823.8,598.7 824.7,599.3 825.0,601.2 825.1,601.2 825.8,602.6 826.1,602.3 826.9,602.9 827.2,603.0 827.7,604.1 828.0,603.7 828.8,604.1 829.0,604.3 829.5,603.9 830.0,605.1 830.5,606.0 830.9,604.2 831.7,604.3 832.4,605.0 832.5,604.6 833.0,605.4 833.5,603.5 834.3,603.5 834.7,602.5 835.4,601.1 835.7,602.1 836.5,601.0 836.7,601.5 837.6,602.2 837.9,602.2 838.5,603.0 839.4,602.6 839.5,603.2 839.9,601.8 840.8,601.5 841.2,602.7 841.7,602.9 842.4,603.4 843.0,603.8 843.6,605.3 843.6,605.9 844.4,605.5 844.8,605.5 845.5,605.4 845.7,605.9 845.9,607.6 846.5,606.4 846.9,606.5 847.8,606.0 848.5,606.8 848.5,606.6 849.1,605.0 849.9,604.4 850.5,605.3 850.6,607.1 851.1,607.3 851.3,607.4 851.9,607.3 852.8,606.5 853.2,607.2 853.9,605.3 854.1,604.9 855.0,605.8 855.4,604.5 855.9,601.7 856.2,596.6 857.2,591.2 857.3,593.3 857.7,593.8 858.2,594.6 858.9,594.9 859.4,593.8 859.5,595.1 860.1,594.2 861.0,596.0 861.6,595.4 861.8,595.7 862.5,594.9 862.9,594.4 863.1,594.7 863.7,593.9 864.4,593.7 864.8,592.6 865.0,592.5 866.0,593.1 866.3,593.1 866.8,592.7 867.2,592.7 867.7,594.4 868.5,593.2 868.9,592.4 869.7,593.6 869.8,593.6 870.0,593.6 870.8,591.2 871.3,590.8 871.7,587.8 872.0,586.0 872.7,585.8 873.1,584.2 874.1,583.5 874.8,581.7 875.2,580.8 875.5,581.9 875.9,581.8 876.8,580.1 876.8,579.6 877.4,579.5 877.7,580.7 878.3,583.1 878.8,584.9 879.4,584.3 880.2,586.5 880.4,586.0 880.8,585.5 881.1,584.8 882.2,583.4 882.4,584.8 882.6,584.7 883.5,585.0 883.9,584.7 884.7,583.7 884.8,582.9 885.7,582.7 885.8,583.3 886.2,584.6 887.1,585.0 887.5,585.0 888.2,586.0 888.2,585.8 888.9,585.6 889.7,583.0 890.3,581.6 890.2,580.4 890.9,580.8 891.5,580.8 892.1,580.5 892.8,581.4 893.2,583.0 893.8,582.7 893.9,583.5 894.6,584.6 895.0,585.2 895.3,586.0 895.9,585.2 896.6,586.5 897.1,585.8 897.7,587.3 897.7,586.2 898.6,588.0 899.2,586.9 899.7,587.5 900.2,587.2 900.5,587.6 901.1,587.8 901.3,589.6 901.7,588.5 902.2,590.2 903.0,589.2 903.1,590.2 903.7,591.0 904.5,591.4 905.1,591.3 905.6,589.9 906.0,589.6 906.5,588.6 907.1,587.7 907.5,587.5 908.1,589.0 908.3,589.4 909.2,587.7 909.7,587.8 910.0,588.1 910.5,588.7 911.0,589.6 911.5,588.4 912.2,587.8 912.5,587.9 912.9,589.4 913.7,591.0 914.1,590.3 914.6,591.4 915.0,591.8 915.7,592.1 916.1,593.3 916.5,593.7 916.9,591.9 917.3,592.6 918.0,590.9 918.6,591.1 919.0,589.3 919.3,590.0 920.1,588.3 920.2,587.1 921.1,586.9 921.4,586.9 922.2,587.1 922.2,585.5 922.9,585.6 923.3,584.6 923.5,586.3 923.9,586.7 924.3,588.8 925.2,588.1 925.7,588.5 926.6,589.4 926.7,590.7 927.2,590.1 927.9,591.4 928.3,591.8 928.7,592.6 929.6,592.0 929.9,592.4 930.5,592.7 930.8,591.6 931.2,592.3 931.8,591.5 932.2,590.5 932.7,592.6 933.0,592.8 933.8,591.6 934.7,591.2 934.9,592.7 935.7,591.5 936.1,593.0 936.1,591.8 936.9,593.3 937.2,593.5 937.7,593.2 938.3,593.8 938.7,594.2 939.3,594.1 939.6,596.1 940.3,596.6 940.5,595.6 940.9,597.1 941.3,596.0 942.0,596.4 942.5,593.9 943.1,593.8 943.9,592.3 944.1,592.6 944.5,591.6 945.2,590.1 945.8,589.9 946.1,591.0 946.6,589.6 946.8,583.1 947.4,576.3 948.3,568.8 948.7,563.4 949.4,560.2 950.1,558.5 950.2,557.2 950.8,555.7 951.5,556.5 951.6,557.8 952.3,558.6 952.5,560.6 953.3,561.8 954.0,563.9 954.5,567.0 955.1,567.3 955.6,569.3 955.7,571.6 956.5,572.0 956.5,572.8 957.2,573.0 958.0,574.5 958.3,574.9 958.8,577.6 959.4,579.5 960.2,581.0 960.5,582.2 960.9,580.4 961.1,578.9 961.7,578.7 961.9,577.9 962.5,578.8 963.0,577.4 963.8,576.7 964.3,577.0 964.7,576.5 965.1,574.6 965.4,574.7 966.3,572.3 966.5,570.9 967.2,570.2 967.6,569.7 968.1,568.7 968.7,567.8 969.1,567.3 970.1,568.7 970.5,567.4 970.6,566.0 971.7,566.3 972.0,565.0 972.2,566.1 972.7,565.3 973.6,564.9 974.2,564.6 974.6,561.9 974.8,561.6 975.3,560.0 975.7,559.5 976.1,560.2 976.5,561.1 977.1,561.4 977.7,561.1 978.1,560.8 978.5,559.9 979.3,559.9 979.9,558.5 980.0,556.0 981.0,556.8 981.7,559.0 981.9,560.2 982.6,562.4 982.9,563.5 983.1,564.6 984.0,566.6 984.1,566.6 984.7,568.2 985.2,568.9 985.9,567.8 986.6,568.0 986.7,568.7 987.0,567.8 987.3,568.9 987.8,567.7 988.6,566.7 989.3,566.6 989.7,567.5 990.5,568.2 991.0,566.5 991.1,566.7 991.3,566.7 992.4,567.0 992.9,567.3 993.2,567.7 993.6,566.7 994.4,567.1 995.1,569.0 995.6,568.6 995.5,570.1 995.8,570.0 996.5,569.1 996.9,569.3 997.6,567.8 997.9,567.2 998.3,565.5 999.4,564.6 1000.0,563.4 1000.6,563.6 1000.6,563.4 1001.5,561.5 1002.1,563.0 1002.7,562.5 1003.2,563.9 1003.4,565.5 1003.6,566.5 1004.6,568.5 1005.2,569.1 1005.5,569.7 1006.1,568.9 1006.8,570.9 1006.9,571.5 1007.3,570.7 1008.2,571.4 1008.6,572.2 1008.8,572.2 1009.8,572.2 1010.2,574.1 1010.4,573.4 1010.6,570.9 1011.1,569.6 1011.8,571.1 1012.0,569.2 1012.4,567.6 1013.0,566.9 1013.5,567.1 1013.9,568.6 1014.9,568.0 1015.4,568.4 1016.0,568.7 1016.2,568.2 1016.6,570.4 1017.0,570.8 1017.7,569.7 1017.9,570.4 1018.6,570.9 1019.4,570.7 1019.8,572.2 1020.5,571.3 1020.9,572.3 1021.2,572.3 1021.8,572.8 1022.2,573.4 1023.0,571.6 1023.6,572.5 1024.1,573.9 1024.7,573.8 1024.9,574.9 1025.1,574.6 1025.7,575.2 1026.5,576.1 1027.0,578.5 1027.2,579.1 1027.9,577.6 1028.4,576.4 1029.0,574.7 1029.5,573.5 1030.4,572.2 1030.7,570.1 1031.2,568.9 1032.0,568.2 1032.4,567.9 1033.1,567.2 1033.0,568.7 1033.9,568.1 1034.3,570.3 1034.5,569.3 1035.4,568.7 1035.4,568.5 1035.7,566.9 1036.7,567.7 1037.0,567.8 1037.2,565.8 1037.8,564.0 1038.3,563.0 1039.2,562.7 1039.8,561.0 1039.9,559.4 1040.3,562.8 1041.4,563.6 1041.7,566.3 1042.4,561.7 1042.9,555.4 1043.4,549.0 1043.7,527.5" fill="none" stroke="#FF0000" stroke-width="3.8" stroke-linejoin="round"/>
<path d="M107.5 813.2H145.8" stroke="#00B050" stroke-width="2"/>
<text class="s" font-size="19" font-weight="500" fill="#303030" x="149.7" y="819.6" textLength="179.8" lengthAdjust="spacing">俄罗斯：英镑兑卢布</text>
<path d="M433.3 813.2H471" stroke="#7030A0" stroke-width="2"/>
<text class="s" font-size="19" font-weight="500" fill="#303030" x="476" y="819.6" textLength="178.5" lengthAdjust="spacing">俄罗斯：欧元兑卢布</text>
<path d="M759.5 813.6H797.8" stroke="#FF0000" stroke-width="3.2"/>
<text class="s" font-size="19" font-weight="500" fill="#303030" x="803" y="819.6" textLength="178.5" lengthAdjust="spacing">俄罗斯：美元兑卢布</text>
<g filter="url(#sh2)" fill="#FFFAF6" fill-opacity="0.88">
<path d="M889.4 773.6a14.6 11.4 0 1 1 29.2 0a14.6 11.4 0 0 1-17.6 11.1l-7.8 3.6 2.2-6.4a14.6 11.4 0 0 1-6-8.300z"/>
</g>
<g filter="url(#sh2)" fill="#FFFAF6" fill-opacity="0.97" stroke="#C4B2A4" stroke-width="0.9">
<path d="M905 784.4a12.700 10.6 0 1 1 19.400 9l1.700 4.600-5.600-2.800a12.700 10.600 0 0 1-15.500-10.800z"/>
</g>
<g fill="#FBDCC2" stroke="#BBA592" stroke-width="0.7"><circle cx="899.2" cy="771" r="1.7"/><circle cx="909.8" cy="771" r="1.7"/><circle cx="913.8" cy="781" r="1.5"/><circle cx="922.8" cy="781" r="1.5"/></g>
<text x="937.3" y="790.8" font-family='&quot;Liberation Sans&quot;, &quot;Noto Sans CJK SC&quot;, sans-serif' font-size="27" font-weight="400" fill="#fff" filter="url(#sh)" textLength="107.5" lengthAdjust="spacing">涛动宏观</text>
</svg></body></html>
